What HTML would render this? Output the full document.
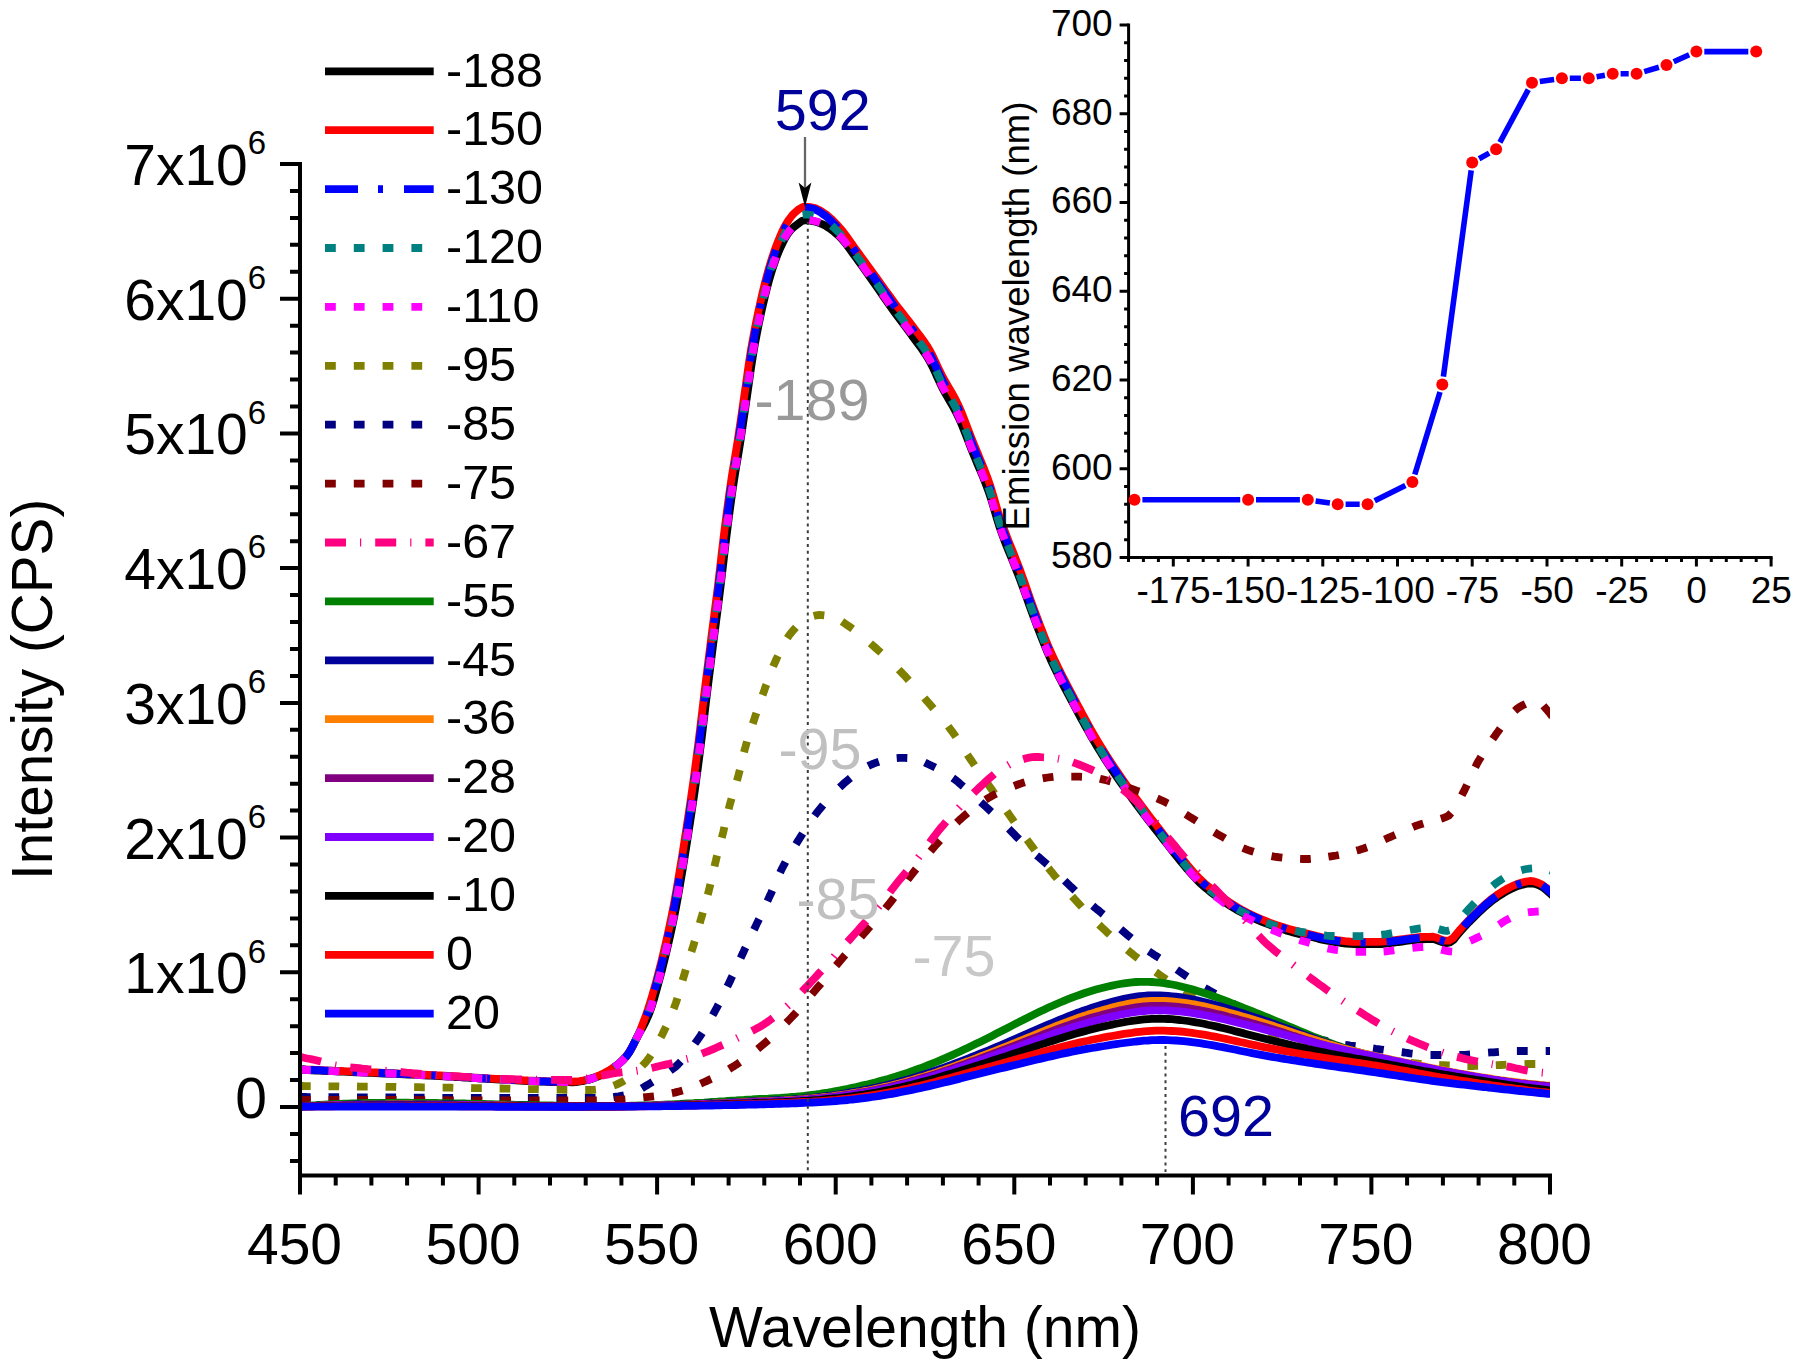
<!DOCTYPE html>
<html><head><meta charset="utf-8"><title>Emission spectra</title>
<style>html,body{margin:0;padding:0;background:#fff}svg{display:block}text{font-family:"Liberation Sans",Arial,sans-serif}</style></head>
<body>
<svg width="1800" height="1368" viewBox="0 0 1800 1368">
<rect width="1800" height="1368" fill="#fff"/>
<defs><clipPath id="cp"><rect x="300.0" y="100" width="1250.0" height="1080"/></clipPath></defs>
<g clip-path="url(#cp)" fill="none" stroke-width="7.8" stroke-linejoin="round">
<path d="M296.0 1069.6L300.0 1069.8L304.0 1069.9L308.0 1070.1L312.0 1070.3L316.0 1070.5L320.0 1070.7L324.0 1070.9L328.0 1071.0L332.0 1071.2L336.0 1071.4L340.0 1071.6L344.0 1071.7L348.0 1071.9L352.0 1072.1L356.0 1072.3L360.0 1072.4L364.0 1072.6L368.0 1072.8L372.0 1072.9L376.0 1073.1L380.0 1073.3L384.0 1073.5L388.0 1073.6L392.0 1073.8L396.0 1074.0L400.0 1074.2L404.0 1074.4L408.0 1074.5L412.0 1074.7L416.0 1074.9L420.0 1075.1L424.0 1075.3L428.0 1075.5L432.0 1075.7L436.0 1075.9L440.0 1076.1L444.0 1076.3L448.0 1076.5L452.0 1076.7L456.0 1077.0L460.0 1077.2L464.0 1077.5L468.0 1077.7L472.0 1078.0L476.0 1078.2L480.0 1078.5L484.0 1078.7L488.0 1078.9L492.0 1079.2L496.0 1079.4L500.0 1079.6L504.0 1079.8L508.0 1080.0L512.0 1080.2L516.0 1080.4L520.0 1080.6L524.0 1080.8L528.0 1081.0L532.0 1081.2L536.0 1081.4L540.0 1081.6L544.0 1081.7L548.0 1081.9L552.0 1082.0L556.0 1082.1L560.0 1082.1L564.0 1082.2L568.0 1082.2L572.0 1082.3L576.0 1082.1L580.0 1081.5L584.0 1080.8L588.0 1079.9L592.0 1078.7L596.0 1077.3L600.0 1075.7L604.0 1073.8L608.0 1071.5L612.0 1069.0L616.0 1066.2L620.0 1063.0L623.0 1060.2L626.0 1056.9L629.0 1052.8L632.0 1047.5L634.0 1043.6L636.0 1039.6L638.0 1035.7L640.0 1032.1L642.0 1028.5L644.0 1024.8L646.0 1020.9L648.0 1016.5L650.0 1011.6L652.0 1005.7L654.0 999.1L656.0 992.0L658.0 984.8L660.0 977.5L662.0 969.9L663.0 965.9L664.0 961.9L665.0 957.9L666.0 953.7L667.0 949.5L668.0 945.2L669.0 940.8L670.0 936.4L671.0 931.8L672.0 927.2L673.0 922.4L674.0 917.6L675.0 912.6L676.0 907.4L677.0 902.1L678.0 896.5L679.0 890.8L680.0 885.0L681.0 879.1L682.0 873.1L683.0 867.1L684.0 861.0L685.0 854.8L686.0 848.5L687.0 842.2L688.0 835.7L689.0 829.2L690.0 822.7L691.0 816.1L692.0 809.5L693.0 802.7L694.0 795.9L695.0 788.9L696.0 781.7L697.0 774.3L698.0 766.8L699.0 759.1L700.0 751.3L701.0 743.4L702.0 735.4L703.0 727.1L704.0 718.7L705.0 710.3L706.0 701.9L707.0 693.7L708.0 685.5L709.0 677.4L710.0 669.4L711.0 661.4L712.0 653.4L713.0 645.5L714.0 637.6L715.0 629.9L716.0 622.2L717.0 614.5L718.0 606.8L719.0 599.0L720.0 591.1L721.0 582.9L722.0 574.4L723.0 565.8L724.0 557.1L725.0 548.4L726.0 540.0L727.0 532.0L728.0 524.1L729.0 516.4L730.0 508.8L731.0 501.4L732.0 494.2L733.0 487.2L734.0 480.5L735.0 474.2L736.0 468.0L737.0 462.1L738.0 456.1L739.0 450.1L740.0 443.9L741.0 437.4L742.0 430.7L743.0 423.9L744.0 417.0L745.0 410.1L746.0 403.2L747.0 396.4L748.0 389.5L749.0 382.4L750.0 375.3L751.0 368.3L752.0 361.6L753.0 355.3L754.0 349.4L755.0 343.7L756.0 338.3L757.0 333.0L758.0 327.9L759.0 323.0L760.0 318.2L761.0 313.5L762.0 309.0L763.0 304.6L764.0 300.3L765.0 296.1L766.0 292.0L767.0 288.1L769.0 280.5L771.0 273.6L773.0 267.3L775.0 261.4L777.0 255.9L779.0 251.0L781.0 246.5L783.0 242.3L785.0 238.4L788.0 233.5L791.0 229.8L794.0 226.9L798.0 223.8L802.0 220.8L806.0 220.1L810.0 220.6L814.0 221.3L818.0 222.5L822.0 224.1L826.0 226.1L830.0 228.6L834.0 231.8L838.0 235.3L841.0 238.2L844.0 241.6L847.0 245.4L850.0 249.5L853.0 253.7L856.0 257.8L859.0 261.9L862.0 266.0L865.0 270.3L868.0 274.5L871.0 278.8L874.0 283.0L877.0 287.3L880.0 291.6L883.0 295.9L886.0 300.2L889.0 304.5L892.0 308.7L895.0 312.9L898.0 317.0L901.0 321.0L904.0 325.0L907.0 328.9L910.0 333.0L913.0 337.1L916.0 341.2L919.0 345.2L922.0 349.3L925.0 353.7L928.0 358.4L931.0 363.8L933.0 367.9L935.0 372.2L937.0 376.6L939.0 381.0L941.0 385.2L943.0 389.1L945.0 392.8L947.0 396.3L950.0 401.4L953.0 406.6L955.0 410.3L957.0 414.2L959.0 418.4L961.0 422.9L963.0 427.8L965.0 432.8L967.0 437.9L969.0 443.1L971.0 448.3L973.0 453.3L975.0 458.1L977.0 462.9L979.0 467.6L981.0 472.3L983.0 477.1L985.0 482.1L987.0 487.3L989.0 492.7L991.0 498.8L993.0 505.3L995.0 512.2L997.0 518.9L999.0 525.4L1001.0 531.2L1003.0 536.7L1005.0 542.0L1007.0 547.1L1009.0 552.0L1011.0 556.9L1013.0 561.8L1015.0 566.7L1017.0 571.7L1019.0 576.8L1021.0 582.1L1023.0 587.6L1025.0 593.1L1027.0 598.8L1029.0 604.4L1031.0 609.9L1033.0 615.4L1035.0 620.7L1037.0 626.0L1039.0 631.2L1041.0 636.3L1043.0 641.4L1045.0 646.4L1047.0 651.2L1049.0 655.8L1051.0 660.3L1053.0 664.6L1055.0 668.8L1057.0 672.9L1059.0 676.9L1061.0 680.8L1063.0 684.7L1065.0 688.5L1067.0 692.3L1069.0 696.0L1071.0 699.8L1073.0 703.5L1075.0 707.2L1077.0 710.9L1079.0 714.6L1081.0 718.3L1083.0 721.9L1085.0 725.5L1087.0 729.1L1089.0 732.7L1091.0 736.2L1094.0 741.4L1097.0 746.4L1100.0 751.3L1103.0 756.1L1106.0 760.8L1109.0 765.4L1112.0 769.9L1115.0 774.4L1118.0 778.7L1121.0 783.1L1124.0 787.3L1127.0 791.6L1130.0 795.8L1133.0 799.9L1136.0 804.0L1139.0 808.0L1142.0 812.0L1145.0 815.9L1148.0 819.8L1151.0 823.7L1154.0 827.5L1157.0 831.3L1160.0 835.2L1163.0 839.0L1166.0 842.8L1169.0 846.7L1172.0 850.5L1175.0 854.3L1178.0 858.0L1181.0 861.7L1184.0 865.3L1187.0 868.9L1190.0 872.3L1193.0 875.7L1196.0 879.0L1199.0 882.1L1202.0 884.8L1206.0 888.3L1210.0 891.6L1214.0 894.7L1218.0 897.6L1222.0 900.4L1226.0 903.1L1230.0 905.7L1234.0 908.2L1238.0 910.5L1242.0 912.7L1246.0 914.8L1250.0 916.7L1254.0 918.5L1258.0 920.2L1262.0 921.8L1266.0 923.4L1270.0 924.9L1274.0 926.4L1278.0 927.8L1282.0 929.1L1286.0 930.4L1290.0 931.6L1294.0 932.7L1298.0 933.7L1302.0 934.7L1306.0 935.6L1310.0 936.6L1314.0 937.5L1318.0 938.6L1322.0 939.6L1326.0 940.5L1330.0 941.3L1334.0 941.9L1338.0 942.5L1342.0 943.1L1346.0 943.5L1350.0 943.9L1354.0 944.1L1358.0 944.1L1362.0 944.1L1366.0 944.1L1370.0 944.1L1374.0 944.1L1378.0 944.1L1382.0 944.0L1386.0 943.6L1390.0 943.1L1394.0 942.6L1398.0 942.0L1402.0 941.6L1406.0 941.0L1410.0 940.5L1414.0 940.0L1418.0 939.6L1422.0 939.3L1426.0 939.1L1430.0 939.0L1434.0 939.1L1438.0 940.6L1442.0 942.1L1446.0 943.2L1450.0 942.4L1454.0 939.5L1457.0 935.5L1460.0 932.0L1463.0 928.6L1466.0 925.4L1469.0 922.2L1472.0 919.2L1475.0 916.2L1478.0 913.3L1481.0 910.4L1484.0 907.6L1487.0 905.0L1491.0 901.7L1495.0 898.7L1499.0 895.9L1503.0 893.4L1507.0 891.0L1511.0 889.0L1515.0 887.2L1519.0 885.7L1523.0 884.6L1527.0 883.7L1531.0 883.3L1535.0 883.9L1539.0 885.4L1543.0 887.5L1547.0 890.7L1551.0 894.2L1554.0 897.2L1556.0 899.3" stroke="#000000"/>
<path d="M296.0 1069.0L300.0 1069.2L304.0 1069.4L308.0 1069.6L312.0 1069.7L316.0 1069.9L320.0 1070.1L324.0 1070.3L328.0 1070.5L332.0 1070.6L336.0 1070.8L340.0 1071.0L344.0 1071.2L348.0 1071.3L352.0 1071.5L356.0 1071.7L360.0 1071.9L364.0 1072.0L368.0 1072.2L372.0 1072.4L376.0 1072.5L380.0 1072.7L384.0 1072.9L388.0 1073.1L392.0 1073.2L396.0 1073.4L400.0 1073.6L404.0 1073.8L408.0 1074.0L412.0 1074.1L416.0 1074.3L420.0 1074.5L424.0 1074.7L428.0 1074.9L432.0 1075.1L436.0 1075.3L440.0 1075.5L444.0 1075.7L448.0 1075.9L452.0 1076.2L456.0 1076.4L460.0 1076.6L464.0 1076.9L468.0 1077.1L472.0 1077.4L476.0 1077.6L480.0 1077.9L484.0 1078.1L488.0 1078.4L492.0 1078.6L496.0 1078.8L500.0 1079.0L504.0 1079.2L508.0 1079.4L512.0 1079.6L516.0 1079.8L520.0 1080.0L524.0 1080.3L528.0 1080.5L532.0 1080.6L536.0 1080.8L540.0 1081.0L544.0 1081.1L548.0 1081.3L552.0 1081.4L556.0 1081.5L560.0 1081.6L564.0 1081.6L568.0 1081.7L572.0 1081.7L576.0 1081.5L580.0 1081.0L584.0 1080.2L588.0 1079.3L592.0 1078.1L596.0 1076.7L600.0 1075.1L604.0 1073.2L608.0 1071.0L612.0 1068.5L616.0 1065.7L620.0 1062.4L623.0 1059.6L626.0 1056.3L629.0 1052.3L632.0 1047.2L634.0 1043.4L636.0 1039.3L638.0 1035.1L640.0 1030.6L642.0 1025.7L644.0 1020.5L646.0 1015.0L648.0 1009.2L650.0 1002.9L652.0 996.3L654.0 989.3L656.0 982.2L658.0 974.8L660.0 967.1L661.0 963.1L662.0 959.0L663.0 954.9L664.0 950.7L665.0 946.4L666.0 942.1L667.0 937.7L668.0 933.2L669.0 928.6L670.0 923.8L671.0 919.0L672.0 914.1L673.0 909.0L674.0 903.7L675.0 898.3L676.0 892.6L677.0 886.8L678.0 881.0L679.0 875.0L680.0 869.0L681.0 862.9L682.0 856.8L683.0 850.5L684.0 844.2L685.0 837.7L686.0 831.3L687.0 824.7L688.0 818.2L689.0 811.6L690.0 804.9L691.0 798.1L692.0 791.1L693.0 784.0L694.0 776.7L695.0 769.2L696.0 761.6L697.0 753.8L698.0 746.0L699.0 738.0L700.0 729.9L701.0 721.5L702.0 713.1L703.0 704.6L704.0 696.3L705.0 688.1L706.0 680.0L707.0 671.9L708.0 663.9L709.0 655.9L710.0 647.9L711.0 640.0L712.0 632.2L713.0 624.4L714.0 616.8L715.0 609.1L716.0 601.3L717.0 593.4L718.0 585.4L719.0 577.0L720.0 568.4L721.0 559.7L722.0 551.0L723.0 542.5L724.0 534.2L725.0 526.3L726.0 518.5L727.0 510.8L728.0 503.3L729.0 496.0L730.0 488.9L731.0 482.0L732.0 475.4L733.0 469.2L734.0 463.2L735.0 457.2L736.0 451.2L737.0 445.1L738.0 438.7L739.0 432.1L740.0 425.3L741.0 418.5L742.0 411.5L743.0 404.6L744.0 397.7L745.0 390.9L746.0 383.8L747.0 376.7L748.0 369.6L749.0 362.7L750.0 356.1L751.0 350.0L752.0 344.2L753.0 338.6L754.0 333.2L755.0 328.0L756.0 322.9L757.0 318.0L758.0 313.2L759.0 308.5L760.0 304.0L761.0 299.6L762.0 295.2L763.0 290.9L764.0 286.8L765.0 282.8L766.0 278.9L768.0 271.5L770.0 264.7L772.0 258.2L774.0 252.2L776.0 246.6L778.0 241.5L780.0 236.6L782.0 232.0L784.0 227.8L786.0 224.1L789.0 219.5L792.0 215.5L795.0 212.4L799.0 209.1L803.0 206.9L807.0 206.8L811.0 207.2L815.0 208.0L819.0 209.9L823.0 212.4L827.0 215.1L831.0 218.6L834.0 221.6L837.0 224.7L840.0 228.0L843.0 231.6L846.0 235.6L849.0 239.8L852.0 244.1L855.0 248.3L858.0 252.4L861.0 256.5L864.0 260.6L867.0 264.8L870.0 268.9L873.0 273.0L876.0 277.1L879.0 281.3L882.0 285.5L885.0 289.7L888.0 293.8L891.0 297.9L894.0 302.0L897.0 306.0L900.0 309.9L903.0 313.7L906.0 317.6L909.0 321.4L912.0 325.4L915.0 329.4L918.0 333.3L921.0 337.2L924.0 341.3L927.0 345.8L930.0 350.7L932.0 354.5L934.0 358.6L936.0 362.9L938.0 367.3L940.0 371.5L942.0 375.5L944.0 379.2L946.0 382.7L949.0 387.9L952.0 393.0L954.0 396.6L956.0 400.4L958.0 404.4L960.0 408.9L962.0 413.6L964.0 418.6L966.0 423.8L968.0 429.1L970.0 434.3L972.0 439.5L974.0 444.5L976.0 449.3L978.0 454.1L980.0 458.9L982.0 463.7L984.0 468.7L986.0 473.8L988.0 479.2L990.0 485.0L992.0 491.4L994.0 498.2L996.0 505.1L998.0 511.8L1000.0 518.0L1002.0 523.7L1004.0 529.2L1006.0 534.4L1008.0 539.6L1010.0 544.6L1012.0 549.5L1014.0 554.5L1016.0 559.6L1018.0 564.7L1020.0 570.0L1022.0 575.5L1024.0 581.1L1026.0 586.8L1028.0 592.5L1030.0 598.2L1032.0 603.8L1034.0 609.3L1036.0 614.7L1038.0 620.0L1040.0 625.3L1042.0 630.5L1044.0 635.6L1046.0 640.6L1048.0 645.4L1050.0 650.0L1052.0 654.5L1054.0 658.8L1056.0 663.0L1058.0 667.1L1060.0 671.2L1062.0 675.2L1064.0 679.1L1066.0 682.9L1068.0 686.7L1070.0 690.5L1072.0 694.3L1074.0 698.1L1076.0 701.9L1078.0 705.7L1080.0 709.4L1082.0 713.2L1084.0 716.9L1086.0 720.6L1088.0 724.2L1090.0 727.8L1092.0 731.4L1094.0 734.9L1097.0 740.0L1100.0 745.0L1103.0 749.9L1106.0 754.6L1109.0 759.3L1112.0 763.9L1115.0 768.4L1118.0 772.8L1121.0 777.2L1124.0 781.5L1127.0 785.8L1130.0 790.0L1133.0 794.2L1136.0 798.3L1139.0 802.4L1142.0 806.4L1145.0 810.4L1148.0 814.4L1151.0 818.3L1154.0 822.2L1157.0 826.1L1160.0 830.0L1163.0 833.9L1166.0 837.8L1169.0 841.7L1172.0 845.6L1175.0 849.5L1178.0 853.3L1181.0 857.1L1184.0 860.8L1187.0 864.5L1190.0 868.0L1193.0 871.5L1196.0 874.9L1199.0 878.0L1202.0 880.9L1205.0 883.6L1209.0 887.0L1213.0 890.3L1217.0 893.3L1221.0 896.3L1225.0 899.1L1229.0 901.9L1233.0 904.5L1237.0 907.0L1241.0 909.4L1245.0 911.5L1249.0 913.6L1253.0 915.5L1257.0 917.3L1261.0 919.1L1265.0 920.7L1269.0 922.3L1273.0 923.8L1277.0 925.2L1281.0 926.5L1285.0 927.8L1289.0 929.0L1293.0 930.1L1297.0 931.1L1301.0 932.1L1305.0 933.1L1309.0 934.0L1313.0 935.0L1317.0 936.0L1321.0 937.0L1325.0 938.0L1329.0 938.8L1333.0 939.5L1337.0 940.1L1341.0 940.6L1345.0 941.1L1349.0 941.5L1353.0 941.8L1357.0 941.8L1361.0 941.8L1365.0 941.8L1369.0 941.8L1373.0 941.8L1377.0 941.8L1381.0 941.7L1385.0 941.4L1389.0 940.9L1393.0 940.4L1397.0 939.9L1401.0 939.4L1405.0 938.9L1409.0 938.3L1413.0 937.8L1417.0 937.4L1421.0 937.0L1425.0 936.9L1429.0 936.8L1433.0 936.7L1437.0 937.8L1441.0 939.5L1445.0 940.7L1449.0 940.6L1453.0 938.2L1456.0 934.6L1459.0 930.9L1462.0 927.5L1465.0 924.1L1468.0 921.0L1471.0 917.9L1474.0 914.9L1477.0 912.0L1480.0 909.1L1483.0 906.3L1486.0 903.5L1490.0 900.2L1494.0 897.1L1498.0 894.3L1502.0 891.7L1506.0 889.3L1510.0 887.2L1514.0 885.3L1518.0 883.7L1522.0 882.5L1526.0 881.6L1530.0 881.0L1534.0 881.4L1538.0 882.7L1542.0 884.5L1546.0 887.5L1550.0 891.0L1553.0 893.8L1556.0 897.0" stroke="#ff0000"/>
<path d="M300.0 1069.4L303.0 1069.5L306.0 1069.7L309.0 1069.8L311.9 1069.9L314.9 1070.1L317.9 1070.2L320.9 1070.3L323.9 1070.5L326.9 1070.6L329.8 1070.7L332.8 1070.9M352.7 1071.7L355.2 1071.9L357.7 1072.0M378.6 1072.9L381.6 1073.0L384.5 1073.1L387.5 1073.3L390.5 1073.4L393.5 1073.5L396.5 1073.6L399.5 1073.8L402.4 1073.9L405.4 1074.0L408.4 1074.2L411.4 1074.3M431.3 1075.3L433.8 1075.4L436.3 1075.5M457.2 1076.7L460.1 1076.9L463.1 1077.0L466.1 1077.2L469.1 1077.4L472.1 1077.6L475.1 1077.8L478.0 1078.0L481.0 1078.1L484.0 1078.3L487.0 1078.5L490.0 1078.7M509.9 1079.7L512.4 1079.8L514.8 1080.0M535.7 1081.0L538.7 1081.1L541.7 1081.3L544.7 1081.4L547.7 1081.5L550.7 1081.6L553.6 1081.6L556.6 1081.7L559.6 1081.7L562.6 1081.8L565.6 1081.8L568.6 1081.9M588.4 1079.4L590.9 1078.7L593.4 1077.8M614.3 1067.1L617.3 1064.9L620.3 1062.4L623.3 1059.5L626.0 1056.6L628.3 1053.6L630.2 1050.6L631.8 1047.6L633.4 1044.6L634.9 1041.6L636.4 1038.7L637.8 1035.7M646.5 1015.8L647.5 1013.3L648.4 1010.8M654.7 989.9L655.6 986.9L656.4 983.9L657.2 981.0L658.0 978.0L658.8 975.0L659.6 972.0L660.4 969.0L661.1 966.0L661.9 963.1L662.6 960.1L663.3 957.1M668.0 937.2L668.5 934.7L669.1 932.2M673.4 911.3L674.0 908.4L674.6 905.4L675.1 902.4L675.7 899.4L676.2 896.4L676.7 893.4L677.2 890.5L677.8 887.5L678.3 884.5L678.8 881.5L679.3 878.5M682.6 858.6L683.0 856.1L683.4 853.7M686.6 832.8L687.1 829.8L687.6 826.8L688.0 823.8L688.5 820.8L688.9 817.8L689.4 814.9L689.8 811.9L690.3 808.9L690.7 805.9L691.2 802.9L691.6 799.9M694.4 780.0L694.7 777.6L695.1 775.1M697.8 754.2L698.2 751.2L698.6 748.2L699.0 745.2L699.3 742.3L699.7 739.3L700.1 736.3L700.4 733.3L700.8 730.3L701.2 727.3L701.5 724.3L701.9 721.4M704.2 701.5L704.5 699.0L704.8 696.5M707.4 675.6L707.8 672.6L708.1 669.6L708.5 666.7L708.9 663.7L709.3 660.7L709.6 657.7L710.0 654.7L710.4 651.7L710.8 648.7L711.1 645.8L711.5 642.8M714.1 622.9L714.4 620.4L714.7 617.9M717.4 597.0L717.8 594.1L718.2 591.1L718.5 588.1L718.9 585.1L719.3 582.1L719.6 579.1L720.0 576.1L720.3 573.2L720.7 570.2L721.0 567.2L721.4 564.2M723.7 544.3L723.9 541.8L724.2 539.3M726.9 518.4L727.3 515.5L727.7 512.5L728.1 509.5L728.5 506.5L728.9 503.5L729.3 500.5L729.7 497.6L730.1 494.6L730.5 491.6L730.9 488.6L731.4 485.6M734.5 465.7L734.9 463.2L735.3 460.8M738.7 439.9L739.2 436.9L739.6 433.9L740.1 430.9L740.5 427.9L741.0 425.0L741.4 422.0L741.8 419.0L742.3 416.0L742.7 413.0L743.1 410.0L743.5 407.0M746.4 387.2L746.8 384.7L747.1 382.2M750.1 361.3L750.6 358.3L751.0 355.3L751.5 352.3L752.0 349.4L752.6 346.4L753.1 343.4L753.6 340.4L754.2 337.4L754.7 334.4L755.3 331.5L755.9 328.5M760.0 308.6L760.5 306.1L761.1 303.6M766.0 282.7L766.8 279.7L767.6 276.7L768.4 273.8L769.2 270.8L770.1 267.8L771.0 264.8L771.9 261.8L772.9 258.8L773.9 255.9L774.9 252.9L775.9 249.9M784.2 230.0L785.4 227.5L786.8 225.0M805.0 207.7L808.0 207.9L811.0 208.4L814.0 209.1L817.0 210.4L820.1 212.1L823.1 214.2L826.1 216.4L829.1 219.0L832.1 221.9L835.0 224.9L837.7 227.9M852.8 248.0L854.6 250.5L856.4 253.0M871.6 274.1L873.8 277.1L875.9 280.1L878.1 283.1L880.2 286.1L882.4 289.1L884.5 292.1L886.7 295.1L888.8 298.1L891.0 301.2L893.2 304.2L895.4 307.2M910.7 327.3L912.6 329.8L914.5 332.3M929.3 353.4L930.9 356.4L932.5 359.4L933.9 362.4L935.3 365.4L936.7 368.4L938.1 371.4L939.5 374.4L940.9 377.5L942.5 380.5L944.1 383.5L945.8 386.5M957.1 406.6L958.3 409.1L959.4 411.6M967.9 432.7L969.0 435.7L970.2 438.7L971.3 441.7L972.5 444.7L973.7 447.7L975.0 450.7L976.2 453.8L977.5 456.8L978.8 459.8L980.0 462.8L981.3 465.8M989.0 485.9L989.9 488.4L990.7 490.9M997.0 512.0L997.9 515.0L998.8 518.0L999.8 521.0L1000.8 524.0L1001.9 527.0L1003.0 530.0L1004.1 533.1L1005.3 536.1L1006.4 539.1L1007.6 542.1L1008.8 545.1M1016.9 565.2L1017.9 567.7L1018.8 570.2M1026.5 591.3L1027.5 594.3L1028.6 597.3L1029.6 600.3L1030.7 603.3L1031.8 606.3L1032.9 609.4L1034.0 612.4L1035.1 615.4L1036.3 618.4L1037.4 621.4L1038.6 624.4M1046.4 644.5L1047.5 647.0L1048.6 649.5M1058.4 670.6L1059.9 673.6L1061.4 676.6L1062.9 679.6L1064.5 682.6L1066.1 685.7L1067.7 688.7L1069.2 691.7L1070.8 694.7L1072.4 697.7L1074.0 700.7L1075.6 703.7M1086.5 723.8L1087.9 726.3L1089.3 728.8M1101.7 749.9L1103.5 752.9L1105.5 755.9L1107.4 758.9L1109.3 761.9L1111.3 765.0L1113.3 768.0L1115.4 771.0L1117.4 774.0L1119.5 777.0L1121.6 780.0L1123.7 783.0M1138.1 803.1L1139.9 805.6L1141.8 808.1M1158.0 829.2L1160.3 832.2L1162.7 835.2L1165.0 838.2L1167.3 841.3L1169.6 844.3L1172.0 847.3L1174.3 850.3L1176.7 853.3L1179.1 856.3L1181.5 859.3L1184.0 862.3M1202.0 882.2L1204.5 884.5L1207.0 886.7M1228.1 902.4L1231.1 904.4L1234.1 906.3L1237.1 908.1L1240.1 909.8L1243.1 911.5L1246.2 913.1L1249.2 914.6L1252.2 916.0L1255.2 917.4L1258.2 918.7L1261.2 920.0M1281.3 927.4L1283.8 928.2L1286.3 929.0M1307.4 934.4L1310.4 935.2L1313.4 935.9L1316.4 936.7L1319.4 937.4L1322.5 938.2L1325.5 938.9L1328.5 939.5L1331.5 940.1L1334.5 940.5L1337.5 940.9L1340.5 941.4M1360.6 942.6L1363.1 942.6L1365.6 942.6M1386.7 942.0L1389.7 941.7L1392.7 941.2L1395.7 940.8L1398.7 940.4L1401.7 940.1L1404.7 939.7L1407.7 939.3L1410.7 938.9L1413.7 938.5L1416.7 938.2L1419.7 937.9M1439.7 939.8L1442.2 940.7L1444.7 941.5M1463.7 926.3L1466.5 923.3L1469.4 920.3L1472.3 917.3L1475.3 914.4L1478.3 911.5L1481.3 908.6L1484.3 905.8L1487.3 903.2L1490.3 900.7L1493.3 898.4L1496.3 896.3M1516.3 885.2L1518.8 884.2L1521.3 883.5M1542.3 885.5L1545.1 887.5L1547.9 889.9L1550.6 892.4L1553.4 895.0L1556.0 897.8" stroke="#0000ff"/>
<path d="M300.0 1069.6L302.7 1069.7L305.4 1069.8L308.0 1069.9L310.7 1070.1M328.5 1070.9L331.2 1071.0L333.9 1071.1L336.6 1071.2L339.2 1071.3M357.1 1072.1L359.8 1072.2L362.4 1072.3L365.1 1072.4L367.8 1072.6M385.6 1073.3L388.3 1073.5L391.0 1073.6L393.7 1073.7L396.3 1073.8M414.2 1074.6L416.9 1074.7L419.5 1074.9L422.2 1075.0L424.9 1075.1M442.7 1076.0L445.4 1076.2L448.1 1076.3L450.7 1076.5L453.4 1076.6M471.3 1077.7L473.9 1077.9L476.6 1078.0L479.3 1078.2L482.0 1078.4M499.8 1079.4L502.5 1079.5L505.2 1079.6L507.8 1079.8L510.5 1079.9M528.3 1080.8L531.0 1081.0L533.7 1081.1L536.4 1081.2L539.1 1081.3M556.9 1081.9L559.6 1081.9L562.2 1082.0L564.9 1082.0L567.6 1082.0M585.4 1080.3L588.1 1079.7L590.8 1078.9L593.5 1078.0L596.1 1077.0M614.0 1067.5L616.7 1065.6L619.3 1063.4L622.0 1061.0L624.6 1058.3M635.5 1040.5L636.8 1037.8L638.2 1035.1L639.6 1032.4L640.9 1029.8M648.8 1011.9L649.7 1009.2L650.6 1006.6L651.4 1003.9L652.2 1001.2M657.3 983.4L658.1 980.7L658.8 978.0L659.5 975.3L660.2 972.7M664.7 954.8L665.3 952.2L665.9 949.5L666.6 946.8L667.2 944.1M671.1 926.3L671.7 923.6L672.2 920.9L672.8 918.3L673.3 915.6M676.7 897.7L677.2 895.1L677.7 892.4L678.1 889.7L678.6 887.0M681.6 869.2L682.0 866.5L682.5 863.8L682.9 861.2L683.3 858.5M686.2 840.7L686.6 838.0L687.0 835.3L687.4 832.6L687.8 829.9M690.5 812.1L690.9 809.4L691.3 806.8L691.7 804.1L692.1 801.4M694.7 783.6L695.0 780.9L695.4 778.2L695.8 775.5L696.1 772.9M698.5 755.0L698.8 752.3L699.1 749.7L699.5 747.0L699.8 744.3M702.0 726.5L702.3 723.8L702.7 721.1L703.0 718.4L703.3 715.8M705.4 697.9L705.7 695.2L706.1 692.6L706.4 689.9L706.7 687.2M708.9 669.4L709.3 666.7L709.6 664.0L709.9 661.4L710.3 658.7M712.5 640.8L712.9 638.2L713.2 635.5L713.5 632.8L713.9 630.1M716.2 612.3L716.6 609.6L716.9 607.0L717.3 604.3L717.6 601.6M719.8 583.8L720.1 581.1L720.5 578.4L720.8 575.7L721.1 573.1M723.1 555.2L723.5 552.5L723.8 549.9L724.1 547.2L724.4 544.5M726.6 526.7L726.9 524.0L727.3 521.3L727.6 518.6L728.0 516.0M730.4 498.1L730.7 495.4L731.1 492.8L731.5 490.1L731.9 487.4M734.6 469.6L735.1 466.9L735.5 464.2L736.0 461.6L736.4 458.9M739.3 441.0L739.7 438.4L740.2 435.7L740.6 433.0L741.0 430.3M743.6 412.5L743.9 409.8L744.3 407.1L744.7 404.5L745.1 401.8M747.7 384.0L748.1 381.3L748.4 378.6L748.8 375.9L749.2 373.2M751.8 355.4L752.3 352.7L752.7 350.0L753.2 347.4L753.7 344.7M757.0 326.9L757.6 324.2L758.1 321.5L758.7 318.8L759.2 316.2M763.2 298.3L763.8 295.6L764.5 293.0L765.1 290.3L765.8 287.6M770.7 269.8L771.5 267.1L772.4 264.4L773.3 261.7L774.2 259.1M781.2 241.2L782.4 238.6L783.7 235.9L785.1 233.2L786.6 230.5M802.6 214.7L805.3 214.3L808.0 214.6L810.7 215.0L813.5 215.5M831.6 225.7L834.3 228.2L837.1 230.8L839.8 233.5L842.2 236.3M855.6 254.4L857.6 257.2L859.6 259.9L861.6 262.6L863.5 265.3M876.5 283.5L878.4 286.2L880.3 289.0L882.3 291.7L884.2 294.4M897.2 312.6L899.3 315.3L901.4 318.0L903.4 320.8L905.5 323.5M919.1 341.7L921.1 344.4L923.1 347.1L925.0 349.8L926.7 352.6M936.2 370.7L937.4 373.5L938.6 376.2L939.9 378.9L941.2 381.6M951.5 399.8L953.0 402.5L954.5 405.3L956.0 408.0L957.3 410.7M965.0 428.9L966.1 431.6L967.2 434.3L968.2 437.1L969.2 439.8M976.6 458.0L977.7 460.7L978.9 463.4L980.0 466.1L981.2 468.9M988.3 487.0L989.3 489.8L990.2 492.5L991.1 495.2L991.9 497.9M997.2 516.1L998.1 518.8L998.9 521.6L999.8 524.3L1000.8 527.0M1007.6 545.2L1008.7 547.9L1009.8 550.6L1010.9 553.4L1012.1 556.1M1019.3 574.3L1020.3 577.0L1021.3 579.7L1022.3 582.4L1023.3 585.2M1029.7 603.3L1030.7 606.1L1031.7 608.8L1032.7 611.5L1033.7 614.2M1040.5 632.1L1041.6 634.8L1042.6 637.5L1043.7 640.2L1044.8 642.9M1052.6 660.8L1053.8 663.5L1055.1 666.2L1056.4 668.9L1057.7 671.6M1066.9 689.6L1068.4 692.3L1069.8 695.0L1071.2 697.6L1072.7 700.3M1082.3 718.3L1083.8 721.0L1085.3 723.7L1086.8 726.4L1088.3 729.1M1098.7 747.0L1100.4 749.7L1102.0 752.4L1103.7 755.1L1105.4 757.8M1117.4 775.7L1119.2 778.4L1121.1 781.1L1123.0 783.8L1124.9 786.5M1137.8 804.5L1139.8 807.2L1141.9 809.9L1143.9 812.5L1145.9 815.2M1159.9 833.2L1162.0 835.9L1164.0 838.6L1166.1 841.3L1168.2 844.0M1182.5 861.9L1184.7 864.6L1187.0 867.3L1189.3 870.0L1191.6 872.7M1209.0 889.4L1211.7 891.6L1214.4 893.7L1217.0 895.7L1219.7 897.6M1237.7 909.3L1240.4 910.9L1243.1 912.3L1245.8 913.7L1248.5 915.1M1266.4 922.8L1269.1 923.7L1271.8 924.7L1274.5 925.6L1277.2 926.4M1295.1 930.8L1297.8 931.3L1300.5 931.8L1303.2 932.2L1305.9 932.6M1323.9 935.3L1326.6 935.6L1329.3 935.8L1331.9 936.0L1334.6 936.0M1352.6 936.2L1355.3 936.2L1358.0 936.2L1360.7 936.1L1363.4 936.0M1381.3 934.8L1384.0 934.5L1386.7 934.1L1389.4 933.6L1392.1 933.1M1410.0 930.0L1412.7 929.5L1415.4 929.1L1418.1 928.7L1420.8 928.4M1438.7 929.1L1441.4 929.9L1444.1 930.6L1446.8 931.0L1449.4 930.3M1464.8 913.6L1467.2 910.9L1469.6 908.2L1472.2 905.5L1474.8 902.8M1492.6 886.0L1495.3 883.8L1498.0 881.9L1500.7 880.0L1503.4 878.3M1521.3 870.2L1524.0 869.5L1526.7 869.0L1529.4 868.6L1532.1 868.4M1550.1 870.3L1553.0 871.4L1556.0 872.9" stroke="#008080"/>
<path d="M300.0 1069.7L302.7 1069.8L305.4 1069.9L308.0 1070.1L310.7 1070.2M328.6 1071.0L331.3 1071.1L334.0 1071.2L336.6 1071.4L339.3 1071.5M357.2 1072.2L359.9 1072.3L362.6 1072.5L365.2 1072.6L367.9 1072.7M385.8 1073.5L388.5 1073.6L391.2 1073.7L393.8 1073.8L396.5 1073.9M414.4 1074.8L417.1 1074.9L419.8 1075.0L422.4 1075.1L425.1 1075.3M443.0 1076.2L445.7 1076.3L448.4 1076.5L451.0 1076.6L453.7 1076.8M471.6 1077.9L474.3 1078.0L477.0 1078.2L479.6 1078.4L482.3 1078.5M500.2 1079.5L502.9 1079.6L505.6 1079.8L508.2 1079.9L510.9 1080.1M528.8 1081.0L531.5 1081.1L534.2 1081.2L536.8 1081.4L539.5 1081.5M557.4 1082.0L560.1 1082.1L562.7 1082.1L565.4 1082.1L568.1 1082.2M586.0 1080.3L588.7 1079.6L591.3 1078.8L594.0 1077.9L596.7 1076.9M614.6 1067.2L617.3 1065.2L619.9 1063.0L622.6 1060.5L625.2 1057.8M635.8 1039.9L637.2 1037.2L638.6 1034.6L640.0 1031.9L641.4 1029.2M649.5 1011.3L650.5 1008.6L651.4 1006.0L652.2 1003.3L653.0 1000.6M658.0 982.7L658.8 980.0L659.5 977.4L660.2 974.7L660.9 972.0M665.4 954.1L666.0 951.4L666.6 948.8L667.3 946.1L667.9 943.4M671.8 925.5L672.4 922.8L672.9 920.2L673.5 917.5L674.0 914.8M677.4 896.9L677.9 894.3L678.3 891.6L678.8 888.9L679.3 886.2M682.3 868.3L682.7 865.7L683.2 863.0L683.6 860.3L684.0 857.6M686.9 839.7L687.3 837.1L687.7 834.4L688.1 831.7L688.5 829.0M691.2 811.1L691.6 808.5L692.0 805.8L692.4 803.1L692.8 800.4M695.4 782.5L695.7 779.9L696.1 777.2L696.5 774.5L696.8 771.8M699.1 753.9L699.5 751.3L699.8 748.6L700.2 745.9L700.5 743.2M702.7 725.3L703.0 722.7L703.3 720.0L703.6 717.3L704.0 714.6M706.1 696.7L706.4 694.1L706.8 691.4L707.1 688.7L707.4 686.0M709.6 668.1L710.0 665.5L710.3 662.8L710.6 660.1L711.0 657.4M713.2 639.5L713.6 636.9L713.9 634.2L714.3 631.5L714.6 628.8M716.9 610.9L717.3 608.3L717.6 605.6L718.0 602.9L718.3 600.2M720.5 582.3L720.9 579.7L721.2 577.0L721.5 574.3L721.8 571.6M723.9 553.7L724.2 551.1L724.5 548.4L724.8 545.7L725.1 543.0M727.3 525.1L727.7 522.5L728.0 519.8L728.4 517.1L728.7 514.4M731.1 496.5L731.5 493.9L731.9 491.2L732.3 488.5L732.7 485.8M735.5 468.0L735.9 465.3L736.4 462.6L736.8 459.9L737.3 457.2M740.2 439.4L740.6 436.7L741.0 434.0L741.4 431.3L741.8 428.6M744.4 410.8L744.8 408.1L745.1 405.4L745.5 402.7L745.9 400.0M748.5 382.2L748.9 379.5L749.3 376.8L749.6 374.1L750.0 371.4M752.7 353.5L753.2 350.9L753.7 348.2L754.1 345.5L754.6 342.8M758.0 325.0L758.6 322.3L759.1 319.6L759.7 316.9L760.3 314.2M764.4 296.4L765.0 293.7L765.7 291.0L766.4 288.3L767.0 285.6M772.2 267.8L773.1 265.1L774.0 262.4L775.0 259.7L776.0 257.0M783.9 239.2L785.4 236.5L787.1 233.8L789.1 231.1L791.5 228.4M809.4 220.0L812.0 220.5L814.7 221.0L817.4 221.7L820.1 222.7M838.5 234.9L841.2 237.5L843.7 240.3L845.9 243.1L848.0 245.8M861.4 264.2L863.4 266.9L865.3 269.7L867.3 272.4L869.3 275.2M882.2 293.5L884.1 296.3L886.1 299.1L888.0 301.8L889.9 304.6M903.4 322.9L905.5 325.7L907.6 328.4L909.7 331.2L911.7 333.9M925.0 352.3L926.8 355.1L928.5 357.8L930.1 360.6L931.5 363.3M940.0 381.7L941.4 384.4L942.8 387.2L944.3 389.9L945.8 392.7M956.2 411.1L957.6 413.8L958.9 416.6L960.1 419.3L961.3 422.1M968.5 440.4L969.6 443.2L970.7 446.0L971.8 448.7L972.9 451.5M980.6 469.8L981.7 472.6L982.9 475.3L984.0 478.1L985.1 480.8M991.6 499.2L992.4 502.0L993.2 504.7L994.0 507.5L994.8 510.2M1000.5 528.6L1001.5 531.3L1002.5 534.1L1003.6 536.8L1004.6 539.6M1012.0 558.0L1013.1 560.7L1014.2 563.5L1015.3 566.2L1016.4 569.0M1023.4 587.3L1024.3 590.1L1025.3 592.8L1026.3 595.6L1027.3 598.4M1033.9 616.7L1034.9 619.5L1036.0 622.2L1037.0 624.9L1038.0 627.5M1044.9 645.0L1046.0 647.7L1047.1 650.3L1048.2 652.9L1049.4 655.6M1057.6 673.1L1058.9 675.7L1060.3 678.4L1061.6 681.0L1063.0 683.6M1072.3 701.2L1073.7 703.8L1075.1 706.4L1076.5 709.1L1077.9 711.7M1087.6 729.3L1089.0 731.9L1090.5 734.5L1092.0 737.2L1093.6 739.8M1104.3 757.3L1106.0 760.0L1107.7 762.6L1109.4 765.2L1111.1 767.9M1123.2 785.4L1125.0 788.0L1126.9 790.7L1128.8 793.3L1130.7 795.9M1143.7 813.5L1145.7 816.1L1147.7 818.7L1149.8 821.4L1151.8 824.0M1165.5 841.6L1167.6 844.2L1169.6 846.8L1171.7 849.5L1173.8 852.1M1188.2 869.6L1190.5 872.3L1192.8 874.9L1195.2 877.5L1197.7 880.2M1215.2 896.0L1217.8 898.1L1220.5 900.1L1223.1 902.1L1225.7 904.1M1243.3 915.7L1245.9 917.2L1248.5 918.6L1251.2 920.0L1253.8 921.4M1271.3 929.5L1274.0 930.6L1276.6 931.7L1279.2 932.8L1281.9 933.8M1299.4 939.9L1302.0 940.7L1304.7 941.5L1307.3 942.2L1309.9 943.0M1327.5 948.4L1330.1 949.0L1332.8 949.5L1335.4 949.9L1338.0 950.2M1355.6 951.8L1358.2 951.8L1360.8 951.8L1363.5 951.8L1366.1 951.8M1383.6 951.5L1386.3 951.3L1388.9 951.0L1391.6 950.6L1394.3 950.2M1412.4 947.9L1415.1 947.6L1417.8 947.3L1420.5 947.1L1423.2 947.0M1441.2 949.6L1444.0 950.3L1446.7 950.9L1449.4 951.4L1452.1 951.6M1470.1 940.9L1472.8 939.7L1475.5 938.4L1478.2 937.2L1481.0 935.9M1499.0 924.7L1501.7 922.9L1504.4 921.2L1507.1 919.7L1509.8 918.3M1527.9 912.4L1530.6 912.0L1533.3 911.8L1536.0 911.6L1538.7 911.5" stroke="#ff00ff"/>
<path d="M300.0 1086.0L302.7 1086.0L305.3 1086.1L308.0 1086.1L310.7 1086.1M328.5 1086.3L331.2 1086.3L333.9 1086.3L336.5 1086.3L339.2 1086.4M357.0 1086.5L359.7 1086.6L362.4 1086.6L365.1 1086.6L367.7 1086.6M385.6 1086.8L388.2 1086.9L390.9 1086.9L393.6 1086.9L396.2 1087.0M414.1 1087.2L416.7 1087.2L419.4 1087.2L422.1 1087.3L424.8 1087.3M442.6 1087.6L445.3 1087.6L447.9 1087.7L450.6 1087.7L453.3 1087.8M471.1 1088.0L473.8 1088.1L476.4 1088.1L479.1 1088.2L481.8 1088.2M499.6 1088.5L502.3 1088.5L505.0 1088.6L507.6 1088.6L510.3 1088.7M528.1 1089.1L530.8 1089.1L533.5 1089.2L536.2 1089.2L538.8 1089.3M556.7 1089.7L559.3 1089.7L562.0 1089.7L564.7 1089.8L567.3 1089.8M585.2 1090.0L587.8 1090.0L590.5 1090.0L593.2 1089.9L595.9 1089.6M613.7 1085.6L616.4 1084.6L619.0 1083.4L621.7 1082.1L624.4 1080.5M642.2 1065.9L644.8 1063.2L647.1 1060.5L649.1 1057.9L650.9 1055.2M660.8 1037.4L662.2 1034.7L663.5 1032.0L664.8 1029.3L666.1 1026.7M673.7 1008.8L674.7 1006.2L675.7 1003.5L676.6 1000.8L677.4 998.1M682.6 980.3L683.4 977.6L684.2 975.0L685.0 972.3L685.8 969.6M691.4 951.8L692.3 949.1L693.1 946.5L693.9 943.8L694.7 941.1M699.8 923.3L700.5 920.6L701.3 917.9L702.1 915.3L702.8 912.6M707.8 894.8L708.5 892.1L709.1 889.4L709.8 886.8L710.4 884.1M714.5 866.3L715.1 863.6L715.8 860.9L716.4 858.2L717.1 855.6M721.8 837.7L722.5 835.1L723.2 832.4L723.8 829.7L724.4 827.0M728.7 809.2L729.3 806.5L730.0 803.9L730.8 801.2L731.5 798.5M737.0 780.7L737.7 778.0L738.4 775.4L739.1 772.7L739.8 770.0M744.0 752.2L744.7 749.5L745.5 746.8L746.2 744.2L747.0 741.5M752.8 723.7L753.7 721.0L754.6 718.3L755.5 715.6L756.4 713.0M762.6 695.1L763.5 692.5L764.5 689.8L765.4 687.1L766.4 684.5M773.1 666.6L774.2 664.0L775.4 661.3L776.6 658.6L777.9 655.9M787.3 638.1L789.1 635.4L791.2 632.8L793.4 630.1L795.9 627.4M813.7 616.0L816.3 615.3L819.0 615.0L821.7 615.1L824.3 615.4M842.0 621.5L844.7 623.4L847.3 625.2L850.0 627.0L852.7 628.9M870.4 643.3L873.0 645.6L875.7 648.0L878.3 650.3L881.0 652.7M898.7 669.6L901.3 672.3L903.9 674.9L906.4 677.6L908.8 680.3M924.3 698.0L926.6 700.6L928.9 703.3L931.2 705.9L933.5 708.6M948.2 726.3L950.2 729.0L952.2 731.6L954.1 734.3L955.9 736.9M967.4 754.6L969.2 757.3L971.0 760.0L972.8 762.6L974.6 765.3M987.2 783.0L989.0 785.6L990.9 788.3L992.8 791.0L994.6 793.6M1006.8 811.3L1008.7 814.0L1010.5 816.6L1012.4 819.3L1014.2 821.9M1027.0 839.7L1029.0 842.3L1030.9 845.0L1032.9 847.6L1034.8 850.3M1048.4 868.0L1050.5 870.7L1052.7 873.3L1054.8 876.0L1057.0 878.6M1072.1 896.3L1074.5 899.0L1076.9 901.6L1079.4 904.3L1081.8 907.0M1099.0 924.6L1101.7 927.2L1104.4 929.8L1107.0 932.3L1109.7 934.7M1127.4 949.9L1130.0 952.1L1132.7 954.2L1135.4 956.4L1138.0 958.4M1155.7 972.0L1158.4 973.9L1161.0 975.8L1163.7 977.7L1166.3 979.5M1184.1 990.9L1186.7 992.4L1189.4 994.0L1192.0 995.5L1194.7 997.0M1212.4 1006.7L1215.1 1008.2L1217.7 1009.6L1220.4 1010.9L1223.0 1012.3M1240.7 1020.9L1243.4 1022.1L1246.1 1023.3L1248.7 1024.5L1251.4 1025.6M1269.1 1032.6L1271.7 1033.6L1274.4 1034.6L1277.0 1035.6L1279.7 1036.5M1297.4 1042.2L1300.1 1043.0L1302.7 1043.8L1305.4 1044.5L1308.0 1045.3M1325.8 1049.9L1328.4 1050.5L1331.1 1051.1L1333.7 1051.7L1336.4 1052.3M1354.1 1055.7L1356.7 1056.2L1359.4 1056.6L1362.1 1057.0L1364.7 1057.5M1382.4 1060.0L1385.1 1060.3L1387.7 1060.7L1390.4 1061.0L1393.1 1061.3M1410.8 1063.0L1413.4 1063.2L1416.1 1063.4L1418.7 1063.7L1421.4 1063.9M1439.1 1065.0L1441.8 1065.1L1444.4 1065.2L1447.1 1065.3L1449.7 1065.4M1467.4 1066.0L1470.1 1066.0L1472.8 1066.0L1475.4 1065.9L1478.1 1065.9M1495.8 1065.2L1498.4 1065.1L1501.1 1065.0L1503.8 1064.9L1506.5 1064.7M1524.5 1064.1L1527.2 1064.0L1529.9 1064.0L1532.6 1064.0L1535.3 1064.0M1553.3 1064.0L1556.0 1064.0" stroke="#808000"/>
<path d="M300.0 1097.0L302.7 1097.0L305.3 1097.0L308.0 1097.1L310.7 1097.1M328.5 1097.2L331.2 1097.2L333.8 1097.2L336.5 1097.2L339.2 1097.2M357.0 1097.3L359.6 1097.3L362.3 1097.3L365.0 1097.3L367.7 1097.3M385.5 1097.4L388.1 1097.4L390.8 1097.5L393.5 1097.5L396.1 1097.5M413.9 1097.6L416.6 1097.6L419.3 1097.6L422.0 1097.6L424.6 1097.6M442.4 1097.8L445.1 1097.8L447.8 1097.8L450.4 1097.8L453.1 1097.8M470.9 1097.9L473.6 1097.9L476.3 1097.9L478.9 1098.0L481.6 1098.0M499.4 1098.0L502.1 1098.0L504.7 1098.0L507.4 1098.0L510.1 1098.0M527.9 1098.0L530.6 1098.0L533.2 1098.0L535.9 1098.0L538.6 1098.0M556.4 1098.0L559.1 1098.0L561.7 1098.0L564.4 1098.0L567.1 1098.0M584.9 1098.0L587.5 1098.0L590.2 1098.0L592.9 1098.0L595.5 1098.0M613.4 1097.1L616.0 1096.7L618.7 1096.3L621.4 1095.8L624.0 1095.3M641.8 1088.4L644.5 1086.7L647.2 1085.1L649.9 1083.5L652.5 1081.9M670.3 1070.7L673.0 1068.7L675.7 1066.6L678.3 1064.1L680.9 1061.4M694.9 1043.6L696.8 1040.9L698.7 1038.3L700.5 1035.6L702.2 1032.9M712.7 1015.1L714.2 1012.5L715.6 1009.8L717.1 1007.1L718.5 1004.4M727.3 986.6L728.6 984.0L729.9 981.3L731.1 978.6L732.4 976.0M740.6 958.1L741.8 955.5L743.1 952.8L744.3 950.1L745.6 947.5M754.0 929.7L755.3 927.0L756.5 924.3L757.8 921.7L759.1 919.0M767.4 901.2L768.6 898.5L769.8 895.8L771.1 893.2L772.2 890.5M780.1 872.7L781.3 870.0L782.7 867.3L784.1 864.7L785.5 862.0M796.0 844.2L797.6 841.5L799.3 838.9L801.0 836.2L802.7 833.5M814.6 815.7L816.6 813.0L818.7 810.4L820.9 807.7L823.1 805.0M839.7 787.3L842.4 784.8L845.0 782.4L847.7 780.2L850.4 778.0M868.2 766.1L870.8 764.8L873.5 763.6L876.2 762.6L878.9 761.7M896.7 758.1L899.3 757.9L902.0 757.8L904.6 757.9L907.3 758.0M924.8 762.5L927.4 763.8L930.0 765.0L932.7 766.2L935.3 767.5M952.8 778.0L955.4 779.9L958.1 782.0L960.7 784.3L963.3 786.5M980.8 802.2L983.5 804.6L986.1 807.0L988.7 809.4L991.4 811.8M1008.8 828.8L1011.4 831.4L1013.9 834.0L1016.5 836.7L1019.1 839.3M1036.6 855.4L1039.3 857.6L1041.9 859.9L1044.5 862.2L1047.2 864.5M1064.7 880.8L1067.3 883.3L1069.9 885.8L1072.6 888.2L1075.2 890.7M1092.7 905.8L1095.3 908.0L1098.0 910.1L1100.6 912.3L1103.2 914.4M1120.7 929.2L1123.4 931.5L1126.0 933.7L1128.6 935.9L1131.3 938.1M1148.8 951.2L1151.4 952.9L1154.0 954.7L1156.7 956.4L1159.3 958.0M1176.8 969.6L1179.4 971.4L1182.1 973.2L1184.7 975.0L1187.3 976.8M1204.8 987.9L1207.5 989.4L1210.1 991.0L1212.7 992.5L1215.4 994.0M1232.9 1003.5L1235.5 1004.9L1238.1 1006.2L1240.8 1007.5L1243.4 1008.8M1260.9 1017.1L1263.5 1018.3L1266.2 1019.5L1268.8 1020.7L1271.4 1021.8M1288.9 1029.1L1291.6 1030.0L1294.2 1031.0L1296.8 1031.9L1299.5 1032.8M1317.0 1038.4L1319.6 1039.2L1322.2 1039.9L1324.9 1040.6L1327.5 1041.3M1345.0 1044.8L1347.6 1045.2L1350.3 1045.6L1352.9 1045.9L1355.5 1046.2M1373.0 1048.4L1375.7 1048.8L1378.3 1049.1L1381.0 1049.5L1383.7 1049.9M1401.7 1052.2L1404.4 1052.5L1407.1 1052.9L1409.8 1053.3L1412.5 1053.6M1430.5 1055.0L1433.2 1055.0L1435.9 1055.0L1438.6 1055.0L1441.3 1055.0M1459.3 1055.0L1462.0 1055.0L1464.7 1054.9L1467.4 1054.7L1470.1 1054.5M1488.1 1052.6L1490.8 1052.4L1493.5 1052.3L1496.2 1052.1L1498.9 1051.9M1516.9 1051.0L1519.6 1051.0L1522.3 1051.0L1525.0 1051.0L1527.7 1051.0M1545.7 1051.0L1548.3 1051.0L1550.8 1051.0L1553.4 1051.0L1556.0 1051.0" stroke="#000080"/>
<path d="M300.0 1100.0L302.7 1100.0L305.4 1100.0L308.0 1100.0L310.7 1100.0M328.6 1100.0L331.3 1100.0L334.0 1100.0L336.7 1100.0L339.3 1100.0M357.2 1100.0L359.9 1100.0L362.6 1100.0L365.3 1100.0L367.9 1100.0M385.8 1100.0L388.5 1100.0L391.2 1100.0L393.9 1100.0L396.6 1100.0M414.4 1100.0L417.1 1100.0L419.8 1100.1L422.5 1100.1L425.2 1100.1M443.0 1100.2L445.7 1100.2L448.4 1100.2L451.1 1100.3L453.8 1100.3M471.6 1100.4L474.3 1100.4L477.0 1100.4L479.7 1100.4L482.4 1100.5M500.3 1100.5L502.9 1100.5L505.6 1100.5L508.3 1100.5L511.0 1100.5M528.9 1100.5L531.5 1100.5L534.2 1100.5L536.9 1100.5L539.6 1100.5M557.5 1100.5L560.1 1100.5L562.8 1100.5L565.5 1100.5L568.2 1100.5M586.1 1100.5L588.8 1100.5L591.4 1100.5L594.1 1100.5L596.8 1100.5M614.7 1100.0L617.4 1099.9L620.0 1099.7L622.7 1099.5L625.4 1099.3M643.3 1097.5L646.0 1097.2L648.7 1096.9L651.3 1096.6L654.0 1096.3M671.9 1093.1L674.6 1092.6L677.3 1091.9L679.9 1091.3L682.6 1090.5M700.5 1083.7L703.2 1082.5L705.9 1081.4L708.5 1080.1L711.2 1078.9M729.1 1069.1L731.8 1067.4L734.5 1065.8L737.2 1064.1L739.8 1062.3M757.7 1049.0L760.4 1046.8L763.1 1044.6L765.8 1042.3L768.4 1040.0M786.3 1022.8L788.9 1020.1L791.5 1017.4L794.0 1014.8L796.4 1012.1M811.9 994.2L814.2 991.5L816.5 988.8L818.8 986.2L821.1 983.5M836.1 965.6L838.4 962.9L840.7 960.2L843.0 957.5L845.3 954.9M861.0 937.0L863.3 934.3L865.6 931.6L867.9 928.9L870.2 926.3M885.4 908.4L887.6 905.7L889.8 903.0L891.9 900.3L894.0 897.6M907.7 879.8L909.7 877.1L911.9 874.4L914.0 871.7L916.1 869.0M930.6 851.2L932.9 848.5L935.2 845.8L937.6 843.1L940.0 840.4M956.8 822.6L959.5 820.0L962.2 817.6L964.9 815.3L967.6 813.0M985.5 799.7L988.1 798.1L990.8 796.6L993.5 795.1L996.2 793.8M1014.1 786.0L1016.7 785.0L1019.4 784.0L1022.1 783.1L1024.8 782.3M1042.7 778.4L1045.4 777.9L1048.0 777.5L1050.7 777.1L1053.4 776.8M1071.3 776.6L1074.0 776.6L1076.6 776.7L1079.3 776.7L1082.0 776.8M1099.9 778.7L1102.6 779.4L1105.2 780.1L1107.9 780.8L1110.6 781.5M1128.5 787.6L1131.2 788.6L1133.9 789.6L1136.5 790.6L1139.2 791.5M1157.1 798.4L1159.8 799.6L1162.5 800.8L1165.1 802.1L1167.8 803.4M1185.7 814.3L1188.4 816.0L1191.1 817.7L1193.8 819.3L1196.4 821.0M1214.3 832.2L1217.0 833.8L1219.7 835.3L1222.4 836.8L1225.0 838.4M1242.9 848.0L1245.6 849.1L1248.3 850.1L1251.0 851.0L1253.6 851.8M1271.5 856.2L1274.2 856.7L1276.9 857.0L1279.6 857.3L1282.3 857.6M1300.1 858.9L1302.8 859.0L1305.5 859.0L1308.1 859.0L1310.8 858.8M1328.4 856.7L1331.0 856.3L1333.6 855.9L1336.3 855.5L1338.9 855.0M1356.5 850.6L1359.1 849.9L1361.8 849.1L1364.4 848.2L1367.0 847.3M1384.6 839.5L1387.3 838.3L1389.9 837.2L1392.5 836.0L1395.2 834.9M1412.8 827.1L1415.4 826.0L1418.0 825.1L1420.7 824.2L1423.3 823.4M1440.9 818.7L1443.5 817.9L1446.2 816.9L1448.8 815.5L1451.2 812.9M1461.8 795.3L1463.1 792.7L1464.5 790.1L1465.8 787.4L1467.0 784.8M1475.3 767.2L1476.6 764.6L1478.0 761.9L1479.6 759.3L1481.1 756.7M1492.7 739.1L1494.6 736.4L1496.4 733.8L1498.3 731.2L1500.2 728.5M1514.7 710.9L1517.4 708.5L1520.0 706.7L1522.7 705.3L1525.4 704.0M1543.4 705.8L1545.7 708.5L1548.1 711.2L1550.3 713.9L1552.3 716.6" stroke="#800000"/>
<path d="M300.0 1056.7L303.0 1057.5L306.0 1058.2L309.0 1058.8L312.0 1059.4L315.0 1060.0L318.0 1060.8L321.0 1061.6M335.0 1065.3L336.2 1065.5M350.2 1067.3L353.2 1067.6L356.2 1067.9L359.2 1068.2L362.2 1068.6L365.2 1068.9L368.2 1069.2L371.2 1069.4M385.2 1070.7L386.4 1070.8M400.5 1072.0L403.5 1072.3L406.5 1072.6L409.5 1072.8L412.5 1073.1L415.5 1073.3L418.5 1073.6L421.5 1073.9M435.5 1075.0L436.7 1075.1M450.7 1076.0L453.7 1076.2L456.7 1076.4L459.7 1076.6L462.7 1076.8L465.7 1076.9L468.7 1077.1L471.7 1077.3M485.7 1078.1L486.9 1078.1M500.9 1078.8L503.9 1078.9L506.9 1079.0L509.9 1079.1L512.9 1079.2L515.9 1079.3L518.9 1079.4L521.9 1079.4M535.9 1079.7L537.1 1079.7M551.1 1079.9L554.1 1079.9L557.1 1079.9L560.1 1080.0L563.1 1080.0L566.1 1080.0L569.1 1080.0L572.1 1080.0M586.2 1078.5L587.4 1078.4M601.4 1075.7L604.4 1075.1L607.4 1074.6L610.4 1074.0L613.4 1073.5L616.4 1073.0L619.4 1072.6L622.4 1072.2M636.4 1070.9L637.6 1070.7M651.6 1068.0L654.6 1067.3L657.6 1066.5L660.6 1065.8L663.6 1065.1L666.6 1064.4L669.6 1063.7L672.6 1062.9M686.6 1059.0L687.8 1058.7M701.8 1053.7L704.8 1052.5L707.8 1051.3L710.8 1050.1L713.8 1048.8L716.8 1047.5L719.8 1046.2L722.8 1044.9M736.8 1038.3L738.0 1037.7M752.0 1031.0L755.0 1029.4L758.0 1027.8L761.0 1026.1L764.0 1024.2L767.0 1022.2L770.0 1020.1L773.0 1017.9M787.1 1006.4L788.3 1005.3M802.0 991.6L804.4 989.0L806.9 986.4L809.3 983.8L811.7 981.2L814.2 978.6L816.6 976.0L818.9 973.4L821.3 970.8M833.8 957.0L834.8 955.8M847.4 941.9L850.1 939.0L852.8 936.0L855.5 933.0L858.2 930.1L860.8 927.1L863.5 924.1L866.2 921.1M878.2 907.3L879.2 906.1M889.9 892.3L892.1 889.3L894.4 886.3L896.7 883.4L899.1 880.4L901.6 877.4L904.1 874.4L906.6 871.5M918.3 857.6L919.2 856.4M929.7 842.6L931.8 839.6L934.0 836.6L936.3 833.7L938.6 830.7L941.0 827.7L943.6 824.8L946.1 821.8M958.8 808.0L959.9 806.8M973.6 793.0L976.5 790.2L979.5 787.4L982.5 784.7L985.4 781.9L988.4 779.2L991.4 776.6L994.3 774.1M1008.2 765.1L1009.4 764.4M1023.2 759.2L1026.2 758.3L1029.2 757.6L1032.1 757.2L1035.1 757.0L1038.1 757.0L1041.0 757.2L1044.0 757.3M1057.9 758.7L1059.0 758.9M1072.9 762.3L1075.9 763.4L1078.8 764.5L1081.8 765.7L1084.8 766.9L1087.7 768.1L1090.7 769.4L1093.7 770.8M1107.5 778.5L1108.7 779.2M1122.6 789.2L1125.5 791.7L1128.5 794.3L1131.5 796.9L1134.4 799.7L1137.4 802.5L1140.4 805.4L1143.3 808.3M1155.3 822.2L1156.3 823.4M1167.6 837.2L1170.2 840.2L1172.7 843.2L1175.2 846.1L1177.6 849.1L1180.0 852.1L1182.5 855.0L1184.9 858.0M1197.0 871.9L1198.1 873.0M1211.9 885.9L1214.9 888.8L1217.8 891.8L1220.7 894.7L1223.6 897.7L1226.5 900.7L1229.3 903.6L1232.1 906.6M1245.0 920.5L1246.1 921.7M1258.5 935.5L1261.0 938.1L1263.5 940.7L1266.1 943.2L1268.7 945.6L1271.3 947.8L1273.9 950.0L1276.5 952.2L1279.1 954.2M1293.0 964.7L1294.2 965.6M1308.0 976.0L1311.0 978.3L1314.0 980.5L1316.9 982.6L1319.9 984.8L1322.9 986.9L1325.8 989.1L1328.8 991.2M1342.6 1000.7L1343.8 1001.5M1357.7 1010.5L1360.7 1012.4L1363.6 1014.3L1366.6 1016.2L1369.6 1018.0L1372.5 1019.9L1375.5 1021.7L1378.5 1023.5M1392.3 1031.2L1393.5 1031.8M1407.4 1038.5L1410.3 1039.9L1413.3 1041.2L1416.3 1042.4L1419.2 1043.7L1422.2 1044.9L1425.2 1046.1L1428.1 1047.3M1442.0 1052.5L1443.2 1052.9M1457.0 1056.9L1460.0 1057.6L1463.0 1058.4L1465.9 1059.1L1468.9 1059.7L1471.9 1060.4L1474.8 1061.0L1477.8 1061.6M1491.7 1064.0L1492.8 1064.2M1506.7 1066.4L1509.7 1066.9L1512.7 1067.5L1515.7 1068.2L1518.7 1068.8L1521.7 1069.5L1524.7 1070.1L1527.7 1070.6M1541.7 1072.6L1542.9 1072.7" stroke="#ff0080"/>
<path d="M296.0 1106.5L300.0 1106.2L304.0 1105.9L308.0 1105.6L312.0 1105.3L316.0 1105.1L320.0 1104.8L324.0 1104.6L328.0 1104.4L332.0 1104.2L336.0 1104.0L340.0 1103.9L344.0 1103.7L348.0 1103.6L352.0 1103.4L356.0 1103.3L360.0 1103.2L364.0 1103.1L368.0 1103.0L372.0 1103.0L376.0 1102.9L380.0 1102.9L384.0 1102.8L388.0 1102.8L392.0 1102.8L396.0 1102.7L400.0 1102.7L404.0 1102.7L408.0 1102.7L412.0 1102.8L416.0 1102.8L420.0 1102.8L424.0 1102.8L428.0 1102.9L432.0 1102.9L436.0 1103.0L440.0 1103.1L444.0 1103.1L448.0 1103.2L452.0 1103.3L456.0 1103.3L460.0 1103.4L464.0 1103.5L468.0 1103.6L472.0 1103.7L476.0 1103.8L480.0 1103.9L484.0 1104.0L488.0 1104.1L492.0 1104.2L496.0 1104.3L500.0 1104.4L504.0 1104.5L508.0 1104.6L512.0 1104.7L516.0 1104.8L520.0 1104.8L524.0 1104.9L528.0 1105.0L532.0 1105.1L536.0 1105.2L540.0 1105.3L544.0 1105.4L548.0 1105.5L552.0 1105.5L556.0 1105.6L560.0 1105.7L564.0 1105.7L568.0 1105.8L572.0 1105.8L576.0 1105.9L580.0 1105.9L584.0 1105.9L588.0 1106.0L592.0 1106.0L596.0 1106.0L600.0 1106.0L604.0 1106.0L608.0 1106.0L612.0 1106.0L616.0 1105.9L620.0 1105.9L624.0 1105.8L628.0 1105.8L632.0 1105.7L636.0 1105.6L640.0 1105.5L644.0 1105.4L648.0 1105.3L652.0 1105.2L656.0 1105.0L660.0 1104.9L664.0 1104.7L668.0 1104.5L672.0 1104.4L676.0 1104.2L680.0 1104.0L684.0 1103.7L688.0 1103.5L692.0 1103.3L696.0 1103.0L700.0 1102.8L704.0 1102.6L708.0 1102.3L712.0 1102.0L716.0 1101.8L720.0 1101.5L724.0 1101.3L728.0 1101.0L732.0 1100.7L736.0 1100.5L740.0 1100.2L744.0 1100.0L748.0 1099.7L752.0 1099.5L756.0 1099.2L760.0 1099.0L764.0 1098.8L768.0 1098.6L772.0 1098.3L776.0 1098.1L780.0 1097.9L784.0 1097.6L788.0 1097.3L792.0 1097.0L796.0 1096.7L800.0 1096.3L804.0 1095.9L808.0 1095.4L812.0 1094.9L816.0 1094.4L820.0 1093.8L824.0 1093.1L828.0 1092.5L832.0 1091.8L836.0 1091.0L840.0 1090.3L844.0 1089.5L848.0 1088.7L852.0 1087.8L856.0 1087.0L860.0 1086.1L864.0 1085.1L868.0 1084.2L872.0 1083.2L876.0 1082.2L880.0 1081.1L884.0 1080.0L888.0 1078.9L892.0 1077.7L896.0 1076.5L900.0 1075.2L904.0 1073.9L908.0 1072.6L912.0 1071.2L916.0 1069.7L920.0 1068.3L924.0 1066.8L928.0 1065.2L932.0 1063.6L936.0 1062.0L940.0 1060.3L944.0 1058.6L948.0 1056.9L952.0 1055.1L956.0 1053.3L960.0 1051.5L964.0 1049.6L968.0 1047.7L972.0 1045.8L976.0 1043.8L980.0 1041.9L984.0 1039.9L988.0 1037.9L992.0 1035.9L996.0 1033.8L1000.0 1031.8L1004.0 1029.7L1008.0 1027.7L1012.0 1025.6L1016.0 1023.6L1020.0 1021.6L1024.0 1019.5L1028.0 1017.5L1032.0 1015.5L1036.0 1013.6L1040.0 1011.6L1044.0 1009.7L1048.0 1007.8L1052.0 1006.0L1056.0 1004.2L1060.0 1002.5L1064.0 1000.8L1068.0 999.2L1072.0 997.6L1076.0 996.1L1080.0 994.7L1084.0 993.3L1088.0 992.0L1092.0 990.8L1096.0 989.6L1100.0 988.5L1104.0 987.5L1108.0 986.5L1112.0 985.6L1116.0 984.8L1120.0 984.0L1124.0 983.4L1128.0 982.8L1132.0 982.4L1136.0 982.0L1140.0 981.8L1144.0 981.8L1148.0 981.8L1152.0 982.0L1156.0 982.3L1160.0 982.7L1164.0 983.2L1168.0 983.8L1172.0 984.5L1176.0 985.3L1180.0 986.2L1184.0 987.2L1188.0 988.2L1192.0 989.3L1196.0 990.5L1200.0 991.7L1204.0 993.0L1208.0 994.3L1212.0 995.7L1216.0 997.2L1220.0 998.7L1224.0 1000.2L1228.0 1001.7L1232.0 1003.3L1236.0 1004.9L1240.0 1006.4L1244.0 1008.0L1248.0 1009.6L1252.0 1011.2L1256.0 1012.8L1260.0 1014.4L1264.0 1016.0L1268.0 1017.7L1272.0 1019.3L1276.0 1021.0L1280.0 1022.7L1284.0 1024.4L1288.0 1026.0L1292.0 1027.7L1296.0 1029.4L1300.0 1031.1L1304.0 1032.7L1308.0 1034.3L1312.0 1036.0L1316.0 1037.6L1320.0 1039.1L1324.0 1040.7L1328.0 1042.2L1332.0 1043.7L1336.0 1045.1L1340.0 1046.5L1344.0 1047.9L1348.0 1049.2L1352.0 1050.5L1356.0 1051.7L1360.0 1052.8L1364.0 1054.0L1368.0 1055.1L1372.0 1056.1L1376.0 1057.2L1380.0 1058.2L1384.0 1059.2L1388.0 1060.2L1392.0 1061.2L1396.0 1062.1L1400.0 1063.1L1404.0 1064.0L1408.0 1064.8L1412.0 1065.7L1416.0 1066.5L1420.0 1067.4L1424.0 1068.2L1428.0 1069.0L1432.0 1069.8L1436.0 1070.5L1440.0 1071.3L1444.0 1072.0L1448.0 1072.8L1452.0 1073.5L1456.0 1074.2L1460.0 1075.0L1464.0 1075.7L1468.0 1076.3L1472.0 1077.0L1476.0 1077.7L1480.0 1078.3L1484.0 1078.9L1488.0 1079.5L1492.0 1080.1L1496.0 1080.7L1500.0 1081.3L1504.0 1081.8L1508.0 1082.3L1512.0 1082.8L1516.0 1083.3L1520.0 1083.8L1524.0 1084.2L1528.0 1084.7L1532.0 1085.1L1536.0 1085.5L1540.0 1085.8L1544.0 1086.2L1548.0 1086.5L1552.0 1086.8L1556.0 1087.1" stroke="#008000"/>
<path d="M296.0 1106.6L300.0 1106.4L304.0 1106.2L308.0 1106.0L312.0 1105.8L316.0 1105.7L320.0 1105.5L324.0 1105.4L328.0 1105.2L332.0 1105.1L336.0 1105.0L340.0 1104.9L344.0 1104.8L348.0 1104.7L352.0 1104.6L356.0 1104.5L360.0 1104.5L364.0 1104.4L368.0 1104.3L372.0 1104.3L376.0 1104.3L380.0 1104.2L384.0 1104.2L388.0 1104.2L392.0 1104.2L396.0 1104.2L400.0 1104.2L404.0 1104.2L408.0 1104.2L412.0 1104.2L416.0 1104.2L420.0 1104.2L424.0 1104.2L428.0 1104.3L432.0 1104.3L436.0 1104.4L440.0 1104.4L444.0 1104.4L448.0 1104.5L452.0 1104.5L456.0 1104.6L460.0 1104.6L464.0 1104.7L468.0 1104.8L472.0 1104.8L476.0 1104.9L480.0 1104.9L484.0 1105.0L488.0 1105.1L492.0 1105.1L496.0 1105.2L500.0 1105.3L504.0 1105.3L508.0 1105.4L512.0 1105.5L516.0 1105.5L520.0 1105.6L524.0 1105.6L528.0 1105.7L532.0 1105.8L536.0 1105.8L540.0 1105.9L544.0 1105.9L548.0 1106.0L552.0 1106.0L556.0 1106.1L560.0 1106.1L564.0 1106.1L568.0 1106.2L572.0 1106.2L576.0 1106.2L580.0 1106.2L584.0 1106.2L588.0 1106.3L592.0 1106.3L596.0 1106.3L600.0 1106.3L604.0 1106.3L608.0 1106.2L612.0 1106.2L616.0 1106.2L620.0 1106.2L624.0 1106.1L628.0 1106.1L632.0 1106.0L636.0 1105.9L640.0 1105.9L644.0 1105.8L648.0 1105.7L652.0 1105.6L656.0 1105.5L660.0 1105.4L664.0 1105.3L668.0 1105.1L672.0 1105.0L676.0 1104.9L680.0 1104.7L684.0 1104.6L688.0 1104.4L692.0 1104.2L696.0 1104.1L700.0 1103.9L704.0 1103.7L708.0 1103.5L712.0 1103.3L716.0 1103.1L720.0 1103.0L724.0 1102.8L728.0 1102.6L732.0 1102.4L736.0 1102.2L740.0 1102.0L744.0 1101.8L748.0 1101.6L752.0 1101.4L756.0 1101.2L760.0 1101.0L764.0 1100.8L768.0 1100.7L772.0 1100.5L776.0 1100.3L780.0 1100.1L784.0 1099.9L788.0 1099.6L792.0 1099.4L796.0 1099.1L800.0 1098.8L804.0 1098.5L808.0 1098.2L812.0 1097.8L816.0 1097.3L820.0 1096.9L824.0 1096.4L828.0 1095.9L832.0 1095.4L836.0 1094.8L840.0 1094.2L844.0 1093.6L848.0 1092.9L852.0 1092.2L856.0 1091.5L860.0 1090.8L864.0 1090.0L868.0 1089.2L872.0 1088.4L876.0 1087.5L880.0 1086.6L884.0 1085.7L888.0 1084.7L892.0 1083.7L896.0 1082.7L900.0 1081.6L904.0 1080.5L908.0 1079.4L912.0 1078.2L916.0 1077.0L920.0 1075.7L924.0 1074.4L928.0 1073.1L932.0 1071.8L936.0 1070.4L940.0 1069.0L944.0 1067.6L948.0 1066.1L952.0 1064.7L956.0 1063.1L960.0 1061.6L964.0 1060.1L968.0 1058.5L972.0 1056.9L976.0 1055.3L980.0 1053.7L984.0 1052.1L988.0 1050.5L992.0 1048.8L996.0 1047.2L1000.0 1045.5L1004.0 1043.8L1008.0 1042.1L1012.0 1040.3L1016.0 1038.6L1020.0 1036.9L1024.0 1035.1L1028.0 1033.4L1032.0 1031.6L1036.0 1029.9L1040.0 1028.1L1044.0 1026.4L1048.0 1024.7L1052.0 1023.0L1056.0 1021.3L1060.0 1019.6L1064.0 1018.0L1068.0 1016.4L1072.0 1014.8L1076.0 1013.3L1080.0 1011.9L1084.0 1010.4L1088.0 1009.1L1092.0 1007.7L1096.0 1006.4L1100.0 1005.2L1104.0 1004.0L1108.0 1002.9L1112.0 1001.8L1116.0 1000.8L1120.0 999.8L1124.0 998.9L1128.0 998.1L1132.0 997.3L1136.0 996.7L1140.0 996.2L1144.0 995.8L1148.0 995.5L1152.0 995.4L1156.0 995.4L1160.0 995.4L1164.0 995.6L1168.0 995.9L1172.0 996.3L1176.0 996.7L1180.0 997.2L1184.0 997.9L1188.0 998.5L1192.0 999.3L1196.0 1000.1L1200.0 1001.0L1204.0 1002.0L1208.0 1003.0L1212.0 1004.1L1216.0 1005.2L1220.0 1006.3L1224.0 1007.5L1228.0 1008.7L1232.0 1010.0L1236.0 1011.2L1240.0 1012.5L1244.0 1013.8L1248.0 1015.1L1252.0 1016.4L1256.0 1017.7L1260.0 1019.0L1264.0 1020.4L1268.0 1021.8L1272.0 1023.2L1276.0 1024.7L1280.0 1026.1L1284.0 1027.6L1288.0 1029.0L1292.0 1030.5L1296.0 1032.0L1300.0 1033.5L1304.0 1034.9L1308.0 1036.4L1312.0 1037.8L1316.0 1039.2L1320.0 1040.6L1324.0 1042.0L1328.0 1043.3L1332.0 1044.6L1336.0 1045.9L1340.0 1047.1L1344.0 1048.4L1348.0 1049.5L1352.0 1050.7L1356.0 1051.7L1360.0 1052.8L1364.0 1053.8L1368.0 1054.8L1372.0 1055.8L1376.0 1056.8L1380.0 1057.7L1384.0 1058.7L1388.0 1059.6L1392.0 1060.5L1396.0 1061.4L1400.0 1062.3L1404.0 1063.1L1408.0 1064.0L1412.0 1064.8L1416.0 1065.7L1420.0 1066.5L1424.0 1067.3L1428.0 1068.1L1432.0 1068.9L1436.0 1069.7L1440.0 1070.5L1444.0 1071.2L1448.0 1072.0L1452.0 1072.7L1456.0 1073.5L1460.0 1074.2L1464.0 1074.9L1468.0 1075.6L1472.0 1076.3L1476.0 1077.0L1480.0 1077.6L1484.0 1078.3L1488.0 1078.9L1492.0 1079.5L1496.0 1080.1L1500.0 1080.7L1504.0 1081.2L1508.0 1081.8L1512.0 1082.3L1516.0 1082.8L1520.0 1083.3L1524.0 1083.7L1528.0 1084.2L1532.0 1084.6L1536.0 1085.0L1540.0 1085.4L1544.0 1085.7L1548.0 1086.1L1552.0 1086.4L1556.0 1086.7" stroke="#00009b"/>
<path d="M296.0 1106.6L300.0 1106.4L304.0 1106.2L308.0 1106.1L312.0 1105.9L316.0 1105.8L320.0 1105.7L324.0 1105.5L328.0 1105.4L332.0 1105.3L336.0 1105.2L340.0 1105.1L344.0 1105.0L348.0 1105.0L352.0 1104.9L356.0 1104.8L360.0 1104.8L364.0 1104.7L368.0 1104.7L372.0 1104.6L376.0 1104.6L380.0 1104.6L384.0 1104.6L388.0 1104.5L392.0 1104.5L396.0 1104.5L400.0 1104.5L404.0 1104.5L408.0 1104.5L412.0 1104.5L416.0 1104.6L420.0 1104.6L424.0 1104.6L428.0 1104.6L432.0 1104.7L436.0 1104.7L440.0 1104.7L444.0 1104.8L448.0 1104.8L452.0 1104.9L456.0 1104.9L460.0 1104.9L464.0 1105.0L468.0 1105.0L472.0 1105.1L476.0 1105.2L480.0 1105.2L484.0 1105.3L488.0 1105.3L492.0 1105.4L496.0 1105.4L500.0 1105.5L504.0 1105.5L508.0 1105.6L512.0 1105.7L516.0 1105.7L520.0 1105.8L524.0 1105.8L528.0 1105.9L532.0 1105.9L536.0 1106.0L540.0 1106.0L544.0 1106.1L548.0 1106.1L552.0 1106.1L556.0 1106.2L560.0 1106.2L564.0 1106.2L568.0 1106.3L572.0 1106.3L576.0 1106.3L580.0 1106.3L584.0 1106.3L588.0 1106.3L592.0 1106.3L596.0 1106.3L600.0 1106.3L604.0 1106.3L608.0 1106.3L612.0 1106.3L616.0 1106.3L620.0 1106.2L624.0 1106.2L628.0 1106.1L632.0 1106.1L636.0 1106.0L640.0 1106.0L644.0 1105.9L648.0 1105.8L652.0 1105.7L656.0 1105.6L660.0 1105.5L664.0 1105.4L668.0 1105.3L672.0 1105.2L676.0 1105.1L680.0 1104.9L684.0 1104.8L688.0 1104.6L692.0 1104.5L696.0 1104.3L700.0 1104.2L704.0 1104.0L708.0 1103.8L712.0 1103.7L716.0 1103.5L720.0 1103.3L724.0 1103.1L728.0 1103.0L732.0 1102.8L736.0 1102.6L740.0 1102.4L744.0 1102.2L748.0 1102.1L752.0 1101.9L756.0 1101.7L760.0 1101.5L764.0 1101.4L768.0 1101.2L772.0 1101.0L776.0 1100.8L780.0 1100.7L784.0 1100.5L788.0 1100.2L792.0 1100.0L796.0 1099.8L800.0 1099.5L804.0 1099.2L808.0 1098.8L812.0 1098.5L816.0 1098.1L820.0 1097.7L824.0 1097.2L828.0 1096.8L832.0 1096.3L836.0 1095.7L840.0 1095.2L844.0 1094.6L848.0 1094.0L852.0 1093.3L856.0 1092.7L860.0 1092.0L864.0 1091.2L868.0 1090.5L872.0 1089.7L876.0 1088.9L880.0 1088.0L884.0 1087.1L888.0 1086.2L892.0 1085.3L896.0 1084.3L900.0 1083.3L904.0 1082.2L908.0 1081.1L912.0 1080.0L916.0 1078.8L920.0 1077.6L924.0 1076.4L928.0 1075.1L932.0 1073.9L936.0 1072.6L940.0 1071.2L944.0 1069.9L948.0 1068.5L952.0 1067.1L956.0 1065.6L960.0 1064.2L964.0 1062.7L968.0 1061.3L972.0 1059.8L976.0 1058.3L980.0 1056.7L984.0 1055.2L988.0 1053.7L992.0 1052.1L996.0 1050.5L1000.0 1049.0L1004.0 1047.4L1008.0 1045.8L1012.0 1044.2L1016.0 1042.5L1020.0 1040.9L1024.0 1039.3L1028.0 1037.6L1032.0 1036.0L1036.0 1034.3L1040.0 1032.7L1044.0 1031.0L1048.0 1029.4L1052.0 1027.8L1056.0 1026.2L1060.0 1024.7L1064.0 1023.1L1068.0 1021.6L1072.0 1020.1L1076.0 1018.7L1080.0 1017.3L1084.0 1015.9L1088.0 1014.6L1092.0 1013.4L1096.0 1012.1L1100.0 1010.9L1104.0 1009.8L1108.0 1008.7L1112.0 1007.6L1116.0 1006.6L1120.0 1005.6L1124.0 1004.7L1128.0 1003.9L1132.0 1003.1L1136.0 1002.5L1140.0 1001.9L1144.0 1001.5L1148.0 1001.2L1152.0 1000.9L1156.0 1000.9L1160.0 1000.9L1164.0 1001.0L1168.0 1001.2L1172.0 1001.4L1176.0 1001.8L1180.0 1002.3L1184.0 1002.8L1188.0 1003.4L1192.0 1004.0L1196.0 1004.7L1200.0 1005.5L1204.0 1006.4L1208.0 1007.3L1212.0 1008.2L1216.0 1009.2L1220.0 1010.2L1224.0 1011.3L1228.0 1012.4L1232.0 1013.5L1236.0 1014.6L1240.0 1015.8L1244.0 1016.9L1248.0 1018.1L1252.0 1019.3L1256.0 1020.5L1260.0 1021.7L1264.0 1023.0L1268.0 1024.2L1272.0 1025.5L1276.0 1026.9L1280.0 1028.2L1284.0 1029.5L1288.0 1030.9L1292.0 1032.3L1296.0 1033.6L1300.0 1035.0L1304.0 1036.3L1308.0 1037.6L1312.0 1038.9L1316.0 1040.2L1320.0 1041.5L1324.0 1042.7L1328.0 1044.0L1332.0 1045.1L1336.0 1046.3L1340.0 1047.4L1344.0 1048.5L1348.0 1049.6L1352.0 1050.6L1356.0 1051.6L1360.0 1052.6L1364.0 1053.5L1368.0 1054.4L1372.0 1055.3L1376.0 1056.2L1380.0 1057.1L1384.0 1058.0L1388.0 1058.9L1392.0 1059.7L1396.0 1060.6L1400.0 1061.4L1404.0 1062.3L1408.0 1063.1L1412.0 1064.0L1416.0 1064.8L1420.0 1065.6L1424.0 1066.4L1428.0 1067.3L1432.0 1068.1L1436.0 1068.9L1440.0 1069.7L1444.0 1070.4L1448.0 1071.2L1452.0 1072.0L1456.0 1072.7L1460.0 1073.5L1464.0 1074.2L1468.0 1074.9L1472.0 1075.6L1476.0 1076.3L1480.0 1077.0L1484.0 1077.6L1488.0 1078.2L1492.0 1078.9L1496.0 1079.5L1500.0 1080.1L1504.0 1080.6L1508.0 1081.2L1512.0 1081.7L1516.0 1082.2L1520.0 1082.7L1524.0 1083.2L1528.0 1083.7L1532.0 1084.1L1536.0 1084.5L1540.0 1084.9L1544.0 1085.3L1548.0 1085.6L1552.0 1085.9L1556.0 1086.2" stroke="#ff8000"/>
<path d="M296.0 1106.6L300.0 1106.4L304.0 1106.3L308.0 1106.2L312.0 1106.0L316.0 1105.9L320.0 1105.8L324.0 1105.7L328.0 1105.6L332.0 1105.5L336.0 1105.4L340.0 1105.3L344.0 1105.2L348.0 1105.1L352.0 1105.1L356.0 1105.0L360.0 1105.0L364.0 1104.9L368.0 1104.9L372.0 1104.8L376.0 1104.8L380.0 1104.8L384.0 1104.8L388.0 1104.8L392.0 1104.8L396.0 1104.7L400.0 1104.7L404.0 1104.8L408.0 1104.8L412.0 1104.8L416.0 1104.8L420.0 1104.8L424.0 1104.8L428.0 1104.9L432.0 1104.9L436.0 1104.9L440.0 1104.9L444.0 1105.0L448.0 1105.0L452.0 1105.1L456.0 1105.1L460.0 1105.1L464.0 1105.2L468.0 1105.2L472.0 1105.3L476.0 1105.3L480.0 1105.4L484.0 1105.4L488.0 1105.5L492.0 1105.5L496.0 1105.6L500.0 1105.6L504.0 1105.7L508.0 1105.7L512.0 1105.8L516.0 1105.8L520.0 1105.9L524.0 1105.9L528.0 1106.0L532.0 1106.0L536.0 1106.1L540.0 1106.1L544.0 1106.1L548.0 1106.2L552.0 1106.2L556.0 1106.2L560.0 1106.3L564.0 1106.3L568.0 1106.3L572.0 1106.3L576.0 1106.4L580.0 1106.4L584.0 1106.4L588.0 1106.4L592.0 1106.4L596.0 1106.4L600.0 1106.4L604.0 1106.4L608.0 1106.3L612.0 1106.3L616.0 1106.3L620.0 1106.3L624.0 1106.2L628.0 1106.2L632.0 1106.1L636.0 1106.1L640.0 1106.0L644.0 1105.9L648.0 1105.9L652.0 1105.8L656.0 1105.7L660.0 1105.6L664.0 1105.5L668.0 1105.4L672.0 1105.3L676.0 1105.2L680.0 1105.0L684.0 1104.9L688.0 1104.8L692.0 1104.6L696.0 1104.5L700.0 1104.3L704.0 1104.2L708.0 1104.0L712.0 1103.9L716.0 1103.7L720.0 1103.5L724.0 1103.4L728.0 1103.2L732.0 1103.0L736.0 1102.9L740.0 1102.7L744.0 1102.5L748.0 1102.4L752.0 1102.2L756.0 1102.0L760.0 1101.9L764.0 1101.7L768.0 1101.5L772.0 1101.4L776.0 1101.2L780.0 1101.0L784.0 1100.8L788.0 1100.6L792.0 1100.4L796.0 1100.2L800.0 1099.9L804.0 1099.6L808.0 1099.3L812.0 1098.9L816.0 1098.6L820.0 1098.2L824.0 1097.8L828.0 1097.3L832.0 1096.8L836.0 1096.3L840.0 1095.8L844.0 1095.2L848.0 1094.7L852.0 1094.0L856.0 1093.4L860.0 1092.7L864.0 1092.0L868.0 1091.3L872.0 1090.5L876.0 1089.7L880.0 1088.9L884.0 1088.1L888.0 1087.2L892.0 1086.2L896.0 1085.3L900.0 1084.3L904.0 1083.2L908.0 1082.2L912.0 1081.1L916.0 1080.0L920.0 1078.8L924.0 1077.6L928.0 1076.4L932.0 1075.2L936.0 1073.9L940.0 1072.6L944.0 1071.3L948.0 1070.0L952.0 1068.6L956.0 1067.2L960.0 1065.8L964.0 1064.4L968.0 1063.0L972.0 1061.5L976.0 1060.1L980.0 1058.6L984.0 1057.2L988.0 1055.7L992.0 1054.2L996.0 1052.7L1000.0 1051.2L1004.0 1049.7L1008.0 1048.1L1012.0 1046.6L1016.0 1045.1L1020.0 1043.5L1024.0 1042.0L1028.0 1040.4L1032.0 1038.9L1036.0 1037.3L1040.0 1035.8L1044.0 1034.2L1048.0 1032.7L1052.0 1031.2L1056.0 1029.7L1060.0 1028.2L1064.0 1026.8L1068.0 1025.4L1072.0 1024.0L1076.0 1022.6L1080.0 1021.3L1084.0 1020.1L1088.0 1018.8L1092.0 1017.6L1096.0 1016.5L1100.0 1015.4L1104.0 1014.3L1108.0 1013.3L1112.0 1012.3L1116.0 1011.3L1120.0 1010.4L1124.0 1009.6L1128.0 1008.8L1132.0 1008.1L1136.0 1007.4L1140.0 1006.9L1144.0 1006.5L1148.0 1006.2L1152.0 1005.9L1156.0 1005.9L1160.0 1005.8L1164.0 1005.9L1168.0 1006.1L1172.0 1006.4L1176.0 1006.7L1180.0 1007.1L1184.0 1007.6L1188.0 1008.2L1192.0 1008.8L1196.0 1009.5L1200.0 1010.2L1204.0 1011.0L1208.0 1011.8L1212.0 1012.7L1216.0 1013.7L1220.0 1014.6L1224.0 1015.6L1228.0 1016.7L1232.0 1017.7L1236.0 1018.8L1240.0 1019.9L1244.0 1021.0L1248.0 1022.1L1252.0 1023.2L1256.0 1024.3L1260.0 1025.4L1264.0 1026.6L1268.0 1027.8L1272.0 1029.0L1276.0 1030.3L1280.0 1031.5L1284.0 1032.8L1288.0 1034.1L1292.0 1035.4L1296.0 1036.6L1300.0 1037.9L1304.0 1039.2L1308.0 1040.4L1312.0 1041.6L1316.0 1042.8L1320.0 1044.0L1324.0 1045.1L1328.0 1046.3L1332.0 1047.4L1336.0 1048.4L1340.0 1049.5L1344.0 1050.5L1348.0 1051.5L1352.0 1052.4L1356.0 1053.3L1360.0 1054.2L1364.0 1055.1L1368.0 1055.9L1372.0 1056.8L1376.0 1057.6L1380.0 1058.4L1384.0 1059.2L1388.0 1060.1L1392.0 1060.9L1396.0 1061.7L1400.0 1062.5L1404.0 1063.3L1408.0 1064.1L1412.0 1064.9L1416.0 1065.7L1420.0 1066.5L1424.0 1067.3L1428.0 1068.1L1432.0 1068.9L1436.0 1069.7L1440.0 1070.5L1444.0 1071.2L1448.0 1072.0L1452.0 1072.7L1456.0 1073.5L1460.0 1074.2L1464.0 1074.9L1468.0 1075.6L1472.0 1076.3L1476.0 1077.0L1480.0 1077.6L1484.0 1078.3L1488.0 1078.9L1492.0 1079.5L1496.0 1080.1L1500.0 1080.7L1504.0 1081.2L1508.0 1081.8L1512.0 1082.3L1516.0 1082.8L1520.0 1083.3L1524.0 1083.7L1528.0 1084.2L1532.0 1084.6L1536.0 1085.0L1540.0 1085.4L1544.0 1085.7L1548.0 1086.1L1552.0 1086.4L1556.0 1086.7" stroke="#800080"/>
<path d="M296.0 1106.6L300.0 1106.5L304.0 1106.3L308.0 1106.2L312.0 1106.1L316.0 1106.0L320.0 1105.9L324.0 1105.8L328.0 1105.7L332.0 1105.6L336.0 1105.5L340.0 1105.4L344.0 1105.4L348.0 1105.3L352.0 1105.3L356.0 1105.2L360.0 1105.2L364.0 1105.1L368.0 1105.1L372.0 1105.1L376.0 1105.0L380.0 1105.0L384.0 1105.0L388.0 1105.0L392.0 1105.0L396.0 1105.0L400.0 1105.0L404.0 1105.0L408.0 1105.0L412.0 1105.0L416.0 1105.0L420.0 1105.0L424.0 1105.1L428.0 1105.1L432.0 1105.1L436.0 1105.1L440.0 1105.2L444.0 1105.2L448.0 1105.2L452.0 1105.3L456.0 1105.3L460.0 1105.3L464.0 1105.4L468.0 1105.4L472.0 1105.5L476.0 1105.5L480.0 1105.6L484.0 1105.6L488.0 1105.6L492.0 1105.7L496.0 1105.7L500.0 1105.8L504.0 1105.8L508.0 1105.9L512.0 1105.9L516.0 1106.0L520.0 1106.0L524.0 1106.0L528.0 1106.1L532.0 1106.1L536.0 1106.2L540.0 1106.2L544.0 1106.2L548.0 1106.3L552.0 1106.3L556.0 1106.3L560.0 1106.3L564.0 1106.4L568.0 1106.4L572.0 1106.4L576.0 1106.4L580.0 1106.4L584.0 1106.4L588.0 1106.4L592.0 1106.4L596.0 1106.4L600.0 1106.4L604.0 1106.4L608.0 1106.4L612.0 1106.4L616.0 1106.3L620.0 1106.3L624.0 1106.3L628.0 1106.2L632.0 1106.2L636.0 1106.1L640.0 1106.1L644.0 1106.0L648.0 1105.9L652.0 1105.9L656.0 1105.8L660.0 1105.7L664.0 1105.6L668.0 1105.5L672.0 1105.4L676.0 1105.3L680.0 1105.2L684.0 1105.0L688.0 1104.9L692.0 1104.8L696.0 1104.6L700.0 1104.5L704.0 1104.4L708.0 1104.2L712.0 1104.1L716.0 1103.9L720.0 1103.8L724.0 1103.6L728.0 1103.5L732.0 1103.3L736.0 1103.1L740.0 1103.0L744.0 1102.8L748.0 1102.7L752.0 1102.5L756.0 1102.3L760.0 1102.2L764.0 1102.0L768.0 1101.9L772.0 1101.7L776.0 1101.5L780.0 1101.4L784.0 1101.2L788.0 1101.0L792.0 1100.8L796.0 1100.5L800.0 1100.3L804.0 1100.0L808.0 1099.7L812.0 1099.4L816.0 1099.1L820.0 1098.7L824.0 1098.3L828.0 1097.9L832.0 1097.4L836.0 1096.9L840.0 1096.4L844.0 1095.9L848.0 1095.3L852.0 1094.7L856.0 1094.1L860.0 1093.5L864.0 1092.8L868.0 1092.1L872.0 1091.4L876.0 1090.6L880.0 1089.8L884.0 1089.0L888.0 1088.1L892.0 1087.2L896.0 1086.3L900.0 1085.3L904.0 1084.3L908.0 1083.3L912.0 1082.2L916.0 1081.1L920.0 1080.0L924.0 1078.9L928.0 1077.7L932.0 1076.5L936.0 1075.3L940.0 1074.0L944.0 1072.7L948.0 1071.4L952.0 1070.1L956.0 1068.8L960.0 1067.4L964.0 1066.1L968.0 1064.7L972.0 1063.3L976.0 1061.9L980.0 1060.5L984.0 1059.1L988.0 1057.7L992.0 1056.3L996.0 1054.9L1000.0 1053.4L1004.0 1052.0L1008.0 1050.5L1012.0 1049.1L1016.0 1047.6L1020.0 1046.1L1024.0 1044.6L1028.0 1043.2L1032.0 1041.7L1036.0 1040.2L1040.0 1038.8L1044.0 1037.3L1048.0 1035.9L1052.0 1034.4L1056.0 1033.0L1060.0 1031.6L1064.0 1030.3L1068.0 1028.9L1072.0 1027.6L1076.0 1026.4L1080.0 1025.1L1084.0 1023.9L1088.0 1022.8L1092.0 1021.6L1096.0 1020.6L1100.0 1019.5L1104.0 1018.5L1108.0 1017.5L1112.0 1016.6L1116.0 1015.7L1120.0 1014.8L1124.0 1014.0L1128.0 1013.2L1132.0 1012.5L1136.0 1011.9L1140.0 1011.4L1144.0 1011.0L1148.0 1010.7L1152.0 1010.5L1156.0 1010.4L1160.0 1010.3L1164.0 1010.4L1168.0 1010.5L1172.0 1010.8L1176.0 1011.1L1180.0 1011.4L1184.0 1011.9L1188.0 1012.4L1192.0 1013.0L1196.0 1013.6L1200.0 1014.3L1204.0 1015.0L1208.0 1015.8L1212.0 1016.6L1216.0 1017.5L1220.0 1018.4L1224.0 1019.3L1228.0 1020.2L1232.0 1021.2L1236.0 1022.2L1240.0 1023.2L1244.0 1024.2L1248.0 1025.2L1252.0 1026.3L1256.0 1027.3L1260.0 1028.3L1264.0 1029.4L1268.0 1030.4L1272.0 1031.5L1276.0 1032.6L1280.0 1033.6L1284.0 1034.7L1288.0 1035.8L1292.0 1036.9L1296.0 1038.0L1300.0 1039.0L1304.0 1040.1L1308.0 1041.1L1312.0 1042.1L1316.0 1043.1L1320.0 1044.1L1324.0 1045.1L1328.0 1046.1L1332.0 1047.0L1336.0 1047.9L1340.0 1048.9L1344.0 1049.8L1348.0 1050.7L1352.0 1051.6L1356.0 1052.4L1360.0 1053.3L1364.0 1054.2L1368.0 1055.0L1372.0 1055.9L1376.0 1056.8L1380.0 1057.6L1384.0 1058.5L1388.0 1059.3L1392.0 1060.2L1396.0 1061.0L1400.0 1061.9L1404.0 1062.8L1408.0 1063.6L1412.0 1064.5L1416.0 1065.3L1420.0 1066.2L1424.0 1067.0L1428.0 1067.8L1432.0 1068.7L1436.0 1069.5L1440.0 1070.3L1444.0 1071.1L1448.0 1071.8L1452.0 1072.6L1456.0 1073.3L1460.0 1074.1L1464.0 1074.8L1468.0 1075.5L1472.0 1076.2L1476.0 1076.8L1480.0 1077.5L1484.0 1078.2L1488.0 1078.9L1492.0 1079.5L1496.0 1080.1L1500.0 1080.8L1504.0 1081.4L1508.0 1082.0L1512.0 1082.6L1516.0 1083.1L1520.0 1083.7L1524.0 1084.2L1528.0 1084.7L1532.0 1085.2L1536.0 1085.7L1540.0 1086.1L1544.0 1086.6L1548.0 1087.0L1552.0 1087.4L1556.0 1087.7" stroke="#8000ff"/>
<path d="M296.0 1106.6L300.0 1106.5L304.0 1106.4L308.0 1106.3L312.0 1106.3L316.0 1106.2L320.0 1106.1L324.0 1106.0L328.0 1106.0L332.0 1105.9L336.0 1105.8L340.0 1105.8L344.0 1105.7L348.0 1105.7L352.0 1105.7L356.0 1105.6L360.0 1105.6L364.0 1105.6L368.0 1105.5L372.0 1105.5L376.0 1105.5L380.0 1105.5L384.0 1105.5L388.0 1105.5L392.0 1105.5L396.0 1105.5L400.0 1105.5L404.0 1105.5L408.0 1105.5L412.0 1105.5L416.0 1105.5L420.0 1105.5L424.0 1105.5L428.0 1105.6L432.0 1105.6L436.0 1105.6L440.0 1105.6L444.0 1105.6L448.0 1105.7L452.0 1105.7L456.0 1105.7L460.0 1105.8L464.0 1105.8L468.0 1105.8L472.0 1105.9L476.0 1105.9L480.0 1105.9L484.0 1106.0L488.0 1106.0L492.0 1106.0L496.0 1106.1L500.0 1106.1L504.0 1106.1L508.0 1106.2L512.0 1106.2L516.0 1106.2L520.0 1106.2L524.0 1106.3L528.0 1106.3L532.0 1106.3L536.0 1106.4L540.0 1106.4L544.0 1106.4L548.0 1106.4L552.0 1106.5L556.0 1106.5L560.0 1106.5L564.0 1106.5L568.0 1106.5L572.0 1106.5L576.0 1106.5L580.0 1106.5L584.0 1106.5L588.0 1106.5L592.0 1106.5L596.0 1106.5L600.0 1106.5L604.0 1106.5L608.0 1106.5L612.0 1106.5L616.0 1106.4L620.0 1106.4L624.0 1106.4L628.0 1106.3L632.0 1106.3L636.0 1106.2L640.0 1106.2L644.0 1106.1L648.0 1106.1L652.0 1106.0L656.0 1105.9L660.0 1105.9L664.0 1105.8L668.0 1105.7L672.0 1105.6L676.0 1105.5L680.0 1105.4L684.0 1105.3L688.0 1105.2L692.0 1105.1L696.0 1105.0L700.0 1104.9L704.0 1104.8L708.0 1104.6L712.0 1104.5L716.0 1104.4L720.0 1104.3L724.0 1104.1L728.0 1104.0L732.0 1103.9L736.0 1103.7L740.0 1103.6L744.0 1103.4L748.0 1103.3L752.0 1103.2L756.0 1103.0L760.0 1102.9L764.0 1102.7L768.0 1102.6L772.0 1102.5L776.0 1102.3L780.0 1102.1L784.0 1102.0L788.0 1101.8L792.0 1101.6L796.0 1101.4L800.0 1101.2L804.0 1100.9L808.0 1100.7L812.0 1100.4L816.0 1100.1L820.0 1099.8L824.0 1099.4L828.0 1099.0L832.0 1098.6L836.0 1098.2L840.0 1097.8L844.0 1097.3L848.0 1096.8L852.0 1096.3L856.0 1095.7L860.0 1095.1L864.0 1094.5L868.0 1093.8L872.0 1093.2L876.0 1092.5L880.0 1091.7L884.0 1090.9L888.0 1090.1L892.0 1089.3L896.0 1088.4L900.0 1087.5L904.0 1086.6L908.0 1085.6L912.0 1084.7L916.0 1083.6L920.0 1082.6L924.0 1081.5L928.0 1080.4L932.0 1079.3L936.0 1078.2L940.0 1077.0L944.0 1075.8L948.0 1074.6L952.0 1073.4L956.0 1072.2L960.0 1071.0L964.0 1069.7L968.0 1068.5L972.0 1067.2L976.0 1065.9L980.0 1064.6L984.0 1063.4L988.0 1062.1L992.0 1060.8L996.0 1059.5L1000.0 1058.2L1004.0 1056.9L1008.0 1055.6L1012.0 1054.2L1016.0 1052.9L1020.0 1051.6L1024.0 1050.3L1028.0 1048.9L1032.0 1047.6L1036.0 1046.2L1040.0 1044.9L1044.0 1043.6L1048.0 1042.3L1052.0 1041.0L1056.0 1039.7L1060.0 1038.4L1064.0 1037.2L1068.0 1035.9L1072.0 1034.7L1076.0 1033.6L1080.0 1032.4L1084.0 1031.4L1088.0 1030.3L1092.0 1029.3L1096.0 1028.3L1100.0 1027.3L1104.0 1026.4L1108.0 1025.5L1112.0 1024.6L1116.0 1023.8L1120.0 1023.0L1124.0 1022.2L1128.0 1021.5L1132.0 1020.9L1136.0 1020.3L1140.0 1019.8L1144.0 1019.4L1148.0 1019.1L1152.0 1018.9L1156.0 1018.8L1160.0 1018.7L1164.0 1018.8L1168.0 1019.0L1172.0 1019.2L1176.0 1019.6L1180.0 1020.0L1184.0 1020.5L1188.0 1021.0L1192.0 1021.6L1196.0 1022.3L1200.0 1023.0L1204.0 1023.8L1208.0 1024.7L1212.0 1025.5L1216.0 1026.4L1220.0 1027.4L1224.0 1028.3L1228.0 1029.3L1232.0 1030.3L1236.0 1031.4L1240.0 1032.4L1244.0 1033.4L1248.0 1034.5L1252.0 1035.5L1256.0 1036.5L1260.0 1037.5L1264.0 1038.5L1268.0 1039.5L1272.0 1040.5L1276.0 1041.5L1280.0 1042.4L1284.0 1043.4L1288.0 1044.4L1292.0 1045.3L1296.0 1046.3L1300.0 1047.2L1304.0 1048.1L1308.0 1049.0L1312.0 1049.9L1316.0 1050.7L1320.0 1051.6L1324.0 1052.4L1328.0 1053.2L1332.0 1054.0L1336.0 1054.8L1340.0 1055.5L1344.0 1056.3L1348.0 1057.0L1352.0 1057.7L1356.0 1058.5L1360.0 1059.2L1364.0 1059.9L1368.0 1060.6L1372.0 1061.3L1376.0 1062.0L1380.0 1062.8L1384.0 1063.5L1388.0 1064.2L1392.0 1065.0L1396.0 1065.7L1400.0 1066.5L1404.0 1067.2L1408.0 1068.0L1412.0 1068.7L1416.0 1069.5L1420.0 1070.2L1424.0 1071.0L1428.0 1071.7L1432.0 1072.4L1436.0 1073.2L1440.0 1073.9L1444.0 1074.6L1448.0 1075.2L1452.0 1075.9L1456.0 1076.6L1460.0 1077.2L1464.0 1077.9L1468.0 1078.5L1472.0 1079.1L1476.0 1079.8L1480.0 1080.4L1484.0 1081.0L1488.0 1081.7L1492.0 1082.3L1496.0 1082.9L1500.0 1083.5L1504.0 1084.1L1508.0 1084.8L1512.0 1085.3L1516.0 1085.9L1520.0 1086.5L1524.0 1087.1L1528.0 1087.6L1532.0 1088.2L1536.0 1088.7L1540.0 1089.2L1544.0 1089.7L1548.0 1090.2L1552.0 1090.7L1556.0 1091.1" stroke="#000000"/>
<path d="M296.0 1106.7L300.0 1106.6L304.0 1106.6L308.0 1106.5L312.0 1106.5L316.0 1106.4L320.0 1106.4L324.0 1106.3L328.0 1106.3L332.0 1106.3L336.0 1106.2L340.0 1106.2L344.0 1106.2L348.0 1106.2L352.0 1106.1L356.0 1106.1L360.0 1106.1L364.0 1106.1L368.0 1106.1L372.0 1106.1L376.0 1106.1L380.0 1106.1L384.0 1106.1L388.0 1106.1L392.0 1106.1L396.0 1106.1L400.0 1106.1L404.0 1106.1L408.0 1106.1L412.0 1106.1L416.0 1106.1L420.0 1106.1L424.0 1106.1L428.0 1106.1L432.0 1106.1L436.0 1106.2L440.0 1106.2L444.0 1106.2L448.0 1106.2L452.0 1106.2L456.0 1106.2L460.0 1106.3L464.0 1106.3L468.0 1106.3L472.0 1106.3L476.0 1106.3L480.0 1106.4L484.0 1106.4L488.0 1106.4L492.0 1106.4L496.0 1106.4L500.0 1106.5L504.0 1106.5L508.0 1106.5L512.0 1106.5L516.0 1106.5L520.0 1106.6L524.0 1106.6L528.0 1106.6L532.0 1106.6L536.0 1106.6L540.0 1106.6L544.0 1106.6L548.0 1106.6L552.0 1106.6L556.0 1106.7L560.0 1106.7L564.0 1106.7L568.0 1106.7L572.0 1106.7L576.0 1106.7L580.0 1106.7L584.0 1106.7L588.0 1106.6L592.0 1106.6L596.0 1106.6L600.0 1106.6L604.0 1106.6L608.0 1106.6L612.0 1106.6L616.0 1106.5L620.0 1106.5L624.0 1106.5L628.0 1106.4L632.0 1106.4L636.0 1106.4L640.0 1106.3L644.0 1106.3L648.0 1106.2L652.0 1106.2L656.0 1106.1L660.0 1106.1L664.0 1106.0L668.0 1106.0L672.0 1105.9L676.0 1105.8L680.0 1105.7L684.0 1105.7L688.0 1105.6L692.0 1105.5L696.0 1105.4L700.0 1105.3L704.0 1105.2L708.0 1105.2L712.0 1105.1L716.0 1105.0L720.0 1104.9L724.0 1104.8L728.0 1104.6L732.0 1104.5L736.0 1104.4L740.0 1104.3L744.0 1104.2L748.0 1104.1L752.0 1104.0L756.0 1103.8L760.0 1103.7L764.0 1103.6L768.0 1103.5L772.0 1103.3L776.0 1103.2L780.0 1103.1L784.0 1102.9L788.0 1102.8L792.0 1102.6L796.0 1102.4L800.0 1102.2L804.0 1102.0L808.0 1101.8L812.0 1101.6L816.0 1101.3L820.0 1101.1L824.0 1100.8L828.0 1100.5L832.0 1100.1L836.0 1099.8L840.0 1099.4L844.0 1099.0L848.0 1098.5L852.0 1098.1L856.0 1097.6L860.0 1097.1L864.0 1096.5L868.0 1095.9L872.0 1095.3L876.0 1094.7L880.0 1094.0L884.0 1093.3L888.0 1092.6L892.0 1091.8L896.0 1091.0L900.0 1090.2L904.0 1089.3L908.0 1088.5L912.0 1087.6L916.0 1086.6L920.0 1085.7L924.0 1084.7L928.0 1083.7L932.0 1082.7L936.0 1081.7L940.0 1080.6L944.0 1079.6L948.0 1078.5L952.0 1077.4L956.0 1076.3L960.0 1075.2L964.0 1074.1L968.0 1072.9L972.0 1071.8L976.0 1070.7L980.0 1069.5L984.0 1068.4L988.0 1067.3L992.0 1066.2L996.0 1065.1L1000.0 1063.9L1004.0 1062.8L1008.0 1061.7L1012.0 1060.6L1016.0 1059.4L1020.0 1058.3L1024.0 1057.2L1028.0 1056.1L1032.0 1054.9L1036.0 1053.8L1040.0 1052.7L1044.0 1051.6L1048.0 1050.5L1052.0 1049.4L1056.0 1048.4L1060.0 1047.3L1064.0 1046.3L1068.0 1045.3L1072.0 1044.3L1076.0 1043.3L1080.0 1042.4L1084.0 1041.5L1088.0 1040.7L1092.0 1039.8L1096.0 1039.0L1100.0 1038.2L1104.0 1037.4L1108.0 1036.7L1112.0 1036.0L1116.0 1035.3L1120.0 1034.6L1124.0 1033.9L1128.0 1033.3L1132.0 1032.8L1136.0 1032.2L1140.0 1031.8L1144.0 1031.4L1148.0 1031.1L1152.0 1030.9L1156.0 1030.7L1160.0 1030.7L1164.0 1030.7L1168.0 1030.8L1172.0 1031.0L1176.0 1031.2L1180.0 1031.5L1184.0 1031.9L1188.0 1032.4L1192.0 1032.9L1196.0 1033.5L1200.0 1034.1L1204.0 1034.7L1208.0 1035.4L1212.0 1036.2L1216.0 1036.9L1220.0 1037.7L1224.0 1038.5L1228.0 1039.4L1232.0 1040.2L1236.0 1041.1L1240.0 1042.0L1244.0 1042.8L1248.0 1043.7L1252.0 1044.6L1256.0 1045.4L1260.0 1046.2L1264.0 1047.1L1268.0 1047.8L1272.0 1048.6L1276.0 1049.4L1280.0 1050.2L1284.0 1050.9L1288.0 1051.7L1292.0 1052.4L1296.0 1053.1L1300.0 1053.8L1304.0 1054.5L1308.0 1055.2L1312.0 1055.9L1316.0 1056.5L1320.0 1057.2L1324.0 1057.8L1328.0 1058.4L1332.0 1059.0L1336.0 1059.6L1340.0 1060.2L1344.0 1060.8L1348.0 1061.4L1352.0 1062.0L1356.0 1062.6L1360.0 1063.2L1364.0 1063.8L1368.0 1064.4L1372.0 1065.1L1376.0 1065.7L1380.0 1066.4L1384.0 1067.1L1388.0 1067.8L1392.0 1068.5L1396.0 1069.2L1400.0 1070.0L1404.0 1070.7L1408.0 1071.4L1412.0 1072.2L1416.0 1072.9L1420.0 1073.7L1424.0 1074.4L1428.0 1075.1L1432.0 1075.9L1436.0 1076.6L1440.0 1077.3L1444.0 1077.9L1448.0 1078.6L1452.0 1079.2L1456.0 1079.9L1460.0 1080.5L1464.0 1081.1L1468.0 1081.7L1472.0 1082.3L1476.0 1082.9L1480.0 1083.5L1484.0 1084.1L1488.0 1084.7L1492.0 1085.3L1496.0 1085.8L1500.0 1086.4L1504.0 1087.0L1508.0 1087.6L1512.0 1088.1L1516.0 1088.7L1520.0 1089.2L1524.0 1089.7L1528.0 1090.3L1532.0 1090.8L1536.0 1091.3L1540.0 1091.8L1544.0 1092.2L1548.0 1092.7L1552.0 1093.2L1556.0 1093.6" stroke="#ff0000"/>
<path d="M296.0 1106.7L300.0 1106.7L304.0 1106.7L308.0 1106.6L312.0 1106.6L316.0 1106.6L320.0 1106.6L324.0 1106.6L328.0 1106.6L332.0 1106.6L336.0 1106.5L340.0 1106.5L344.0 1106.5L348.0 1106.5L352.0 1106.5L356.0 1106.5L360.0 1106.5L364.0 1106.5L368.0 1106.5L372.0 1106.5L376.0 1106.5L380.0 1106.5L384.0 1106.5L388.0 1106.5L392.0 1106.5L396.0 1106.5L400.0 1106.5L404.0 1106.5L408.0 1106.6L412.0 1106.6L416.0 1106.6L420.0 1106.6L424.0 1106.6L428.0 1106.6L432.0 1106.6L436.0 1106.6L440.0 1106.6L444.0 1106.6L448.0 1106.6L452.0 1106.7L456.0 1106.7L460.0 1106.7L464.0 1106.7L468.0 1106.7L472.0 1106.7L476.0 1106.7L480.0 1106.7L484.0 1106.7L488.0 1106.7L492.0 1106.7L496.0 1106.8L500.0 1106.8L504.0 1106.8L508.0 1106.8L512.0 1106.8L516.0 1106.8L520.0 1106.8L524.0 1106.8L528.0 1106.8L532.0 1106.8L536.0 1106.8L540.0 1106.8L544.0 1106.8L548.0 1106.8L552.0 1106.8L556.0 1106.8L560.0 1106.8L564.0 1106.8L568.0 1106.8L572.0 1106.8L576.0 1106.8L580.0 1106.8L584.0 1106.8L588.0 1106.7L592.0 1106.7L596.0 1106.7L600.0 1106.7L604.0 1106.7L608.0 1106.7L612.0 1106.6L616.0 1106.6L620.0 1106.6L624.0 1106.6L628.0 1106.5L632.0 1106.5L636.0 1106.5L640.0 1106.4L644.0 1106.4L648.0 1106.4L652.0 1106.3L656.0 1106.3L660.0 1106.3L664.0 1106.2L668.0 1106.2L672.0 1106.1L676.0 1106.1L680.0 1106.0L684.0 1105.9L688.0 1105.9L692.0 1105.8L696.0 1105.8L700.0 1105.7L704.0 1105.6L708.0 1105.6L712.0 1105.5L716.0 1105.4L720.0 1105.3L724.0 1105.2L728.0 1105.2L732.0 1105.1L736.0 1105.0L740.0 1104.9L744.0 1104.8L748.0 1104.7L752.0 1104.6L756.0 1104.5L760.0 1104.4L764.0 1104.3L768.0 1104.2L772.0 1104.1L776.0 1103.9L780.0 1103.8L784.0 1103.7L788.0 1103.6L792.0 1103.4L796.0 1103.3L800.0 1103.1L804.0 1102.9L808.0 1102.7L812.0 1102.5L816.0 1102.3L820.0 1102.1L824.0 1101.9L828.0 1101.6L832.0 1101.3L836.0 1101.0L840.0 1100.7L844.0 1100.3L848.0 1100.0L852.0 1099.5L856.0 1099.1L860.0 1098.6L864.0 1098.1L868.0 1097.6L872.0 1097.0L876.0 1096.5L880.0 1095.8L884.0 1095.2L888.0 1094.5L892.0 1093.8L896.0 1093.1L900.0 1092.3L904.0 1091.5L908.0 1090.7L912.0 1089.9L916.0 1089.0L920.0 1088.2L924.0 1087.3L928.0 1086.4L932.0 1085.4L936.0 1084.5L940.0 1083.5L944.0 1082.5L948.0 1081.6L952.0 1080.6L956.0 1079.6L960.0 1078.6L964.0 1077.5L968.0 1076.5L972.0 1075.5L976.0 1074.5L980.0 1073.5L984.0 1072.5L988.0 1071.5L992.0 1070.5L996.0 1069.5L1000.0 1068.5L1004.0 1067.6L1008.0 1066.6L1012.0 1065.6L1016.0 1064.7L1020.0 1063.7L1024.0 1062.7L1028.0 1061.8L1032.0 1060.8L1036.0 1059.8L1040.0 1058.9L1044.0 1057.9L1048.0 1057.0L1052.0 1056.1L1056.0 1055.2L1060.0 1054.3L1064.0 1053.4L1068.0 1052.6L1072.0 1051.7L1076.0 1050.9L1080.0 1050.2L1084.0 1049.4L1088.0 1048.7L1092.0 1048.0L1096.0 1047.3L1100.0 1046.6L1104.0 1046.0L1108.0 1045.3L1112.0 1044.7L1116.0 1044.1L1120.0 1043.5L1124.0 1043.0L1128.0 1042.5L1132.0 1042.0L1136.0 1041.5L1140.0 1041.1L1144.0 1040.7L1148.0 1040.5L1152.0 1040.2L1156.0 1040.1L1160.0 1040.0L1164.0 1040.0L1168.0 1040.1L1172.0 1040.3L1176.0 1040.5L1180.0 1040.8L1184.0 1041.2L1188.0 1041.6L1192.0 1042.1L1196.0 1042.6L1200.0 1043.2L1204.0 1043.8L1208.0 1044.5L1212.0 1045.2L1216.0 1045.9L1220.0 1046.7L1224.0 1047.4L1228.0 1048.2L1232.0 1049.0L1236.0 1049.8L1240.0 1050.7L1244.0 1051.5L1248.0 1052.3L1252.0 1053.1L1256.0 1053.9L1260.0 1054.6L1264.0 1055.4L1268.0 1056.1L1272.0 1056.8L1276.0 1057.5L1280.0 1058.1L1284.0 1058.8L1288.0 1059.5L1292.0 1060.1L1296.0 1060.7L1300.0 1061.4L1304.0 1062.0L1308.0 1062.6L1312.0 1063.2L1316.0 1063.8L1320.0 1064.4L1324.0 1065.0L1328.0 1065.6L1332.0 1066.2L1336.0 1066.7L1340.0 1067.3L1344.0 1067.9L1348.0 1068.4L1352.0 1069.0L1356.0 1069.6L1360.0 1070.1L1364.0 1070.7L1368.0 1071.3L1372.0 1071.9L1376.0 1072.5L1380.0 1073.1L1384.0 1073.7L1388.0 1074.3L1392.0 1074.9L1396.0 1075.5L1400.0 1076.1L1404.0 1076.7L1408.0 1077.3L1412.0 1077.9L1416.0 1078.5L1420.0 1079.1L1424.0 1079.7L1428.0 1080.2L1432.0 1080.8L1436.0 1081.3L1440.0 1081.8L1444.0 1082.3L1448.0 1082.8L1452.0 1083.3L1456.0 1083.8L1460.0 1084.3L1464.0 1084.7L1468.0 1085.2L1472.0 1085.7L1476.0 1086.1L1480.0 1086.6L1484.0 1087.0L1488.0 1087.5L1492.0 1087.9L1496.0 1088.4L1500.0 1088.8L1504.0 1089.3L1508.0 1089.7L1512.0 1090.1L1516.0 1090.6L1520.0 1091.0L1524.0 1091.4L1528.0 1091.8L1532.0 1092.2L1536.0 1092.6L1540.0 1093.0L1544.0 1093.4L1548.0 1093.8L1552.0 1094.1L1556.0 1094.5" stroke="#0000ff"/>
</g>
<g stroke="#3c3c3c" stroke-width="2" stroke-dasharray="3 3.85" fill="none">
<path d="M807.8 222V1172"/>
<path d="M1165.5 1046V1172"/>
</g>
<g stroke="#000" stroke-width="4" fill="none" stroke-linecap="butt">
<path d="M300.0 162.0V1175.5H1552.0"/>
<path d="M300.0 1160.9h-10M300.0 1133.9h-10M300.0 1107.0h-20M300.0 1080.1h-10M300.0 1053.1h-10M300.0 1026.2h-10M300.0 999.2h-10M300.0 972.3h-20M300.0 945.3h-10M300.0 918.4h-10M300.0 891.5h-10M300.0 864.5h-10M300.0 837.6h-20M300.0 810.6h-10M300.0 783.7h-10M300.0 756.7h-10M300.0 729.8h-10M300.0 702.9h-20M300.0 675.9h-10M300.0 649.0h-10M300.0 622.0h-10M300.0 595.1h-10M300.0 568.1h-20M300.0 541.2h-10M300.0 514.3h-10M300.0 487.3h-10M300.0 460.4h-10M300.0 433.4h-20M300.0 406.5h-10M300.0 379.5h-10M300.0 352.6h-10M300.0 325.7h-10M300.0 298.7h-20M300.0 271.8h-10M300.0 244.8h-10M300.0 217.9h-10M300.0 190.9h-10M300.0 164.0h-20"/>
<path d="M300.0 1175.5v19M335.7 1175.5v10M371.4 1175.5v10M407.1 1175.5v10M442.9 1175.5v10M478.6 1175.5v19M514.3 1175.5v10M550.0 1175.5v10M585.7 1175.5v10M621.4 1175.5v10M657.1 1175.5v19M692.9 1175.5v10M728.6 1175.5v10M764.3 1175.5v10M800.0 1175.5v10M835.7 1175.5v19M871.4 1175.5v10M907.1 1175.5v10M942.9 1175.5v10M978.6 1175.5v10M1014.3 1175.5v19M1050.0 1175.5v10M1085.7 1175.5v10M1121.4 1175.5v10M1157.1 1175.5v10M1192.9 1175.5v19M1228.6 1175.5v10M1264.3 1175.5v10M1300.0 1175.5v10M1335.7 1175.5v10M1371.4 1175.5v19M1407.1 1175.5v10M1442.9 1175.5v10M1478.6 1175.5v10M1514.3 1175.5v10M1550.0 1175.5v19"/>
</g>
<g font-size="57" fill="#000">
<text x="266.2" y="993.2" text-anchor="end">1x10<tspan dy="-30.7" font-size="33">6</tspan></text>
<text x="266.2" y="858.5" text-anchor="end">2x10<tspan dy="-30.7" font-size="33">6</tspan></text>
<text x="266.2" y="723.8" text-anchor="end">3x10<tspan dy="-30.7" font-size="33">6</tspan></text>
<text x="266.2" y="589.0" text-anchor="end">4x10<tspan dy="-30.7" font-size="33">6</tspan></text>
<text x="266.2" y="454.3" text-anchor="end">5x10<tspan dy="-30.7" font-size="33">6</tspan></text>
<text x="266.2" y="319.6" text-anchor="end">6x10<tspan dy="-30.7" font-size="33">6</tspan></text>
<text x="266.2" y="184.9" text-anchor="end">7x10<tspan dy="-30.7" font-size="33">6</tspan></text>
<text x="267" y="1118.2" text-anchor="end">0</text>
<text x="294.5" y="1263.5" text-anchor="middle">450</text>
<text x="473.1" y="1263.5" text-anchor="middle">500</text>
<text x="651.6" y="1263.5" text-anchor="middle">550</text>
<text x="830.2" y="1263.5" text-anchor="middle">600</text>
<text x="1008.8" y="1263.5" text-anchor="middle">650</text>
<text x="1187.4" y="1263.5" text-anchor="middle">700</text>
<text x="1365.9" y="1263.5" text-anchor="middle">750</text>
<text x="1544.5" y="1263.5" text-anchor="middle">800</text>
<text x="925" y="1346.7" text-anchor="middle">Wavelength (nm)</text>
<text transform="translate(51.5,689.3) rotate(-90)" text-anchor="middle" font-size="56.7">Intensity (CPS)</text>
</g>
<g font-size="48.5" fill="#000">
<path d="M325 71.3H433.7" stroke="#000000" stroke-width="7.8" fill="none"/>
<text x="446" y="86.5">-188</text>
<path d="M325 130.2H433.7" stroke="#ff0000" stroke-width="7.8" fill="none"/>
<text x="446" y="145.4">-150</text>
<path d="M325 189.1H433.7" stroke="#0000ff" stroke-width="7.8" fill="none" stroke-dasharray="33 20 5 21"/>
<text x="446" y="204.3">-130</text>
<path d="M325 248.0H433.7" stroke="#008080" stroke-width="7.8" fill="none" stroke-dasharray="10.8 18"/>
<text x="446" y="263.2">-120</text>
<path d="M325 306.9H433.7" stroke="#ff00ff" stroke-width="7.8" fill="none" stroke-dasharray="10.8 18"/>
<text x="446" y="322.1">-110</text>
<path d="M325 365.8H433.7" stroke="#808000" stroke-width="7.8" fill="none" stroke-dasharray="10.8 18"/>
<text x="446" y="381.0">-95</text>
<path d="M325 424.7H433.7" stroke="#000080" stroke-width="7.8" fill="none" stroke-dasharray="10.8 18"/>
<text x="446" y="439.9">-85</text>
<path d="M325 483.6H433.7" stroke="#800000" stroke-width="7.8" fill="none" stroke-dasharray="10.8 18"/>
<text x="446" y="498.8">-75</text>
<path d="M325 542.5H433.7" stroke="#ff0080" stroke-width="7.8" fill="none" stroke-dasharray="21 14 1.2 14"/>
<text x="446" y="557.7">-67</text>
<path d="M325 601.4H433.7" stroke="#008000" stroke-width="7.8" fill="none"/>
<text x="446" y="616.6">-55</text>
<path d="M325 660.3H433.7" stroke="#00009b" stroke-width="7.8" fill="none"/>
<text x="446" y="675.5">-45</text>
<path d="M325 719.2H433.7" stroke="#ff8000" stroke-width="7.8" fill="none"/>
<text x="446" y="734.4">-36</text>
<path d="M325 778.1H433.7" stroke="#800080" stroke-width="7.8" fill="none"/>
<text x="446" y="793.3">-28</text>
<path d="M325 837.0H433.7" stroke="#8000ff" stroke-width="7.8" fill="none"/>
<text x="446" y="852.2">-20</text>
<path d="M325 895.9H433.7" stroke="#000000" stroke-width="7.8" fill="none"/>
<text x="446" y="911.1">-10</text>
<path d="M325 954.8H433.7" stroke="#ff0000" stroke-width="7.8" fill="none"/>
<text x="446" y="970.0">0</text>
<path d="M325 1013.7H433.7" stroke="#0000ff" stroke-width="7.8" fill="none"/>
<text x="446" y="1028.9">20</text>
</g>
<g font-size="57.5">
<text x="822.8" y="130.3" text-anchor="middle" fill="#00009b">592</text>
<text x="1226" y="1136" text-anchor="middle" fill="#00009b">692</text>
<text x="812" y="420" text-anchor="middle" fill="#999">-189</text>
<text x="820" y="769" text-anchor="middle" fill="#c0c0c0">-95</text>
<text x="838" y="919" text-anchor="middle" fill="#c0c0c0">-85</text>
<text x="954" y="975.5" text-anchor="middle" fill="#c8c8c8">-75</text>
</g>
<path d="M805 137V192" stroke="#666" stroke-width="2.3" fill="none"/>
<path d="M805 207L798.6 182.5L805 188L811.4 182.5Z" fill="#000"/>
<g stroke="#000" stroke-width="3" fill="none">
<path d="M1128.6 23.5V557.5H1772.6"/>
<path d="M1128.6 557.5h-9.0M1128.6 539.8h-4.5M1128.6 522.0h-4.5M1128.6 504.2h-4.5M1128.6 486.5h-4.5M1128.6 468.8h-9.0M1128.6 451.0h-4.5M1128.6 433.2h-4.5M1128.6 415.5h-4.5M1128.6 397.8h-4.5M1128.6 380.0h-9.0M1128.6 362.2h-4.5M1128.6 344.5h-4.5M1128.6 326.8h-4.5M1128.6 309.0h-4.5M1128.6 291.2h-9.0M1128.6 273.5h-4.5M1128.6 255.8h-4.5M1128.6 238.0h-4.5M1128.6 220.2h-4.5M1128.6 202.5h-9.0M1128.6 184.8h-4.5M1128.6 167.0h-4.5M1128.6 149.2h-4.5M1128.6 131.5h-4.5M1128.6 113.8h-9.0M1128.6 96.0h-4.5M1128.6 78.2h-4.5M1128.6 60.5h-4.5M1128.6 42.8h-4.5M1128.6 25.0h-9.0M1128.5 557.5v4.5M1143.4 557.5v4.5M1158.4 557.5v4.5M1173.3 557.5v9.0M1188.3 557.5v4.5M1203.2 557.5v4.5M1218.2 557.5v4.5M1233.1 557.5v4.5M1248.1 557.5v9.0M1263.0 557.5v4.5M1277.9 557.5v4.5M1292.9 557.5v4.5M1307.8 557.5v4.5M1322.8 557.5v9.0M1337.7 557.5v4.5M1352.7 557.5v4.5M1367.6 557.5v4.5M1382.6 557.5v4.5M1397.5 557.5v9.0M1412.4 557.5v4.5M1427.4 557.5v4.5M1442.3 557.5v4.5M1457.3 557.5v4.5M1472.2 557.5v9.0M1487.2 557.5v4.5M1502.1 557.5v4.5M1517.1 557.5v4.5M1532.0 557.5v4.5M1547.0 557.5v9.0M1561.9 557.5v4.5M1576.8 557.5v4.5M1591.8 557.5v4.5M1606.7 557.5v4.5M1621.7 557.5v9.0M1636.6 557.5v4.5M1651.6 557.5v4.5M1666.5 557.5v4.5M1681.5 557.5v4.5M1696.4 557.5v9.0M1711.3 557.5v4.5M1726.3 557.5v4.5M1741.2 557.5v4.5M1756.2 557.5v4.5M1771.1 557.5v9.0"/>
</g>
<g font-size="37" fill="#000">
<text x="1112.7" y="568.4" text-anchor="end">580</text>
<text x="1112.7" y="479.6" text-anchor="end">600</text>
<text x="1112.7" y="390.9" text-anchor="end">620</text>
<text x="1112.7" y="302.1" text-anchor="end">640</text>
<text x="1112.7" y="213.4" text-anchor="end">660</text>
<text x="1112.7" y="124.7" text-anchor="end">680</text>
<text x="1112.7" y="35.9" text-anchor="end">700</text>
<text x="1173.5" y="602.5" text-anchor="middle">-175</text>
<text x="1248.3" y="602.5" text-anchor="middle">-150</text>
<text x="1323.0" y="602.5" text-anchor="middle">-125</text>
<text x="1397.7" y="602.5" text-anchor="middle">-100</text>
<text x="1472.4" y="602.5" text-anchor="middle">-75</text>
<text x="1547.2" y="602.5" text-anchor="middle">-50</text>
<text x="1621.9" y="602.5" text-anchor="middle">-25</text>
<text x="1696.6" y="602.5" text-anchor="middle">0</text>
<text x="1771.3" y="602.5" text-anchor="middle">25</text>
<text transform="translate(1029,316) rotate(-90)" text-anchor="middle" font-size="36.6">Emission wavelength (nm)</text>
</g>
<path d="M1142.4 499.8L1240.2 499.8M1256.0 499.8L1299.9 499.8M1315.6 501.0L1329.9 503.1M1345.6 504.2L1359.7 504.2M1374.7 500.7L1405.4 485.6M1414.8 474.5L1440.0 392.0M1443.4 376.6L1471.2 170.4M1479.1 158.7L1489.2 153.1M1499.9 142.3L1528.3 89.6M1539.8 81.5L1554.1 79.4M1569.8 78.2L1580.9 78.2M1596.6 76.8L1604.9 75.3M1620.6 73.8L1628.7 73.8M1644.2 71.6L1658.9 67.2M1673.7 61.7L1689.2 54.8M1704.3 51.6L1748.3 51.6" stroke="#0000ff" stroke-width="5.6" fill="none"/>
<circle cx="1134.5" cy="499.8" r="6" fill="#ff0000"/>
<circle cx="1248.1" cy="499.8" r="6" fill="#ff0000"/>
<circle cx="1307.8" cy="499.8" r="6" fill="#ff0000"/>
<circle cx="1337.7" cy="504.2" r="6" fill="#ff0000"/>
<circle cx="1367.6" cy="504.2" r="6" fill="#ff0000"/>
<circle cx="1412.4" cy="482.1" r="6" fill="#ff0000"/>
<circle cx="1442.3" cy="384.4" r="6" fill="#ff0000"/>
<circle cx="1472.2" cy="162.6" r="6" fill="#ff0000"/>
<circle cx="1496.1" cy="149.2" r="6" fill="#ff0000"/>
<circle cx="1532.0" cy="82.7" r="6" fill="#ff0000"/>
<circle cx="1561.9" cy="78.2" r="6" fill="#ff0000"/>
<circle cx="1588.8" cy="78.2" r="6" fill="#ff0000"/>
<circle cx="1612.7" cy="73.8" r="6" fill="#ff0000"/>
<circle cx="1636.6" cy="73.8" r="6" fill="#ff0000"/>
<circle cx="1666.5" cy="64.9" r="6" fill="#ff0000"/>
<circle cx="1696.4" cy="51.6" r="6" fill="#ff0000"/>
<circle cx="1756.2" cy="51.6" r="6" fill="#ff0000"/>
</svg></body></html>
